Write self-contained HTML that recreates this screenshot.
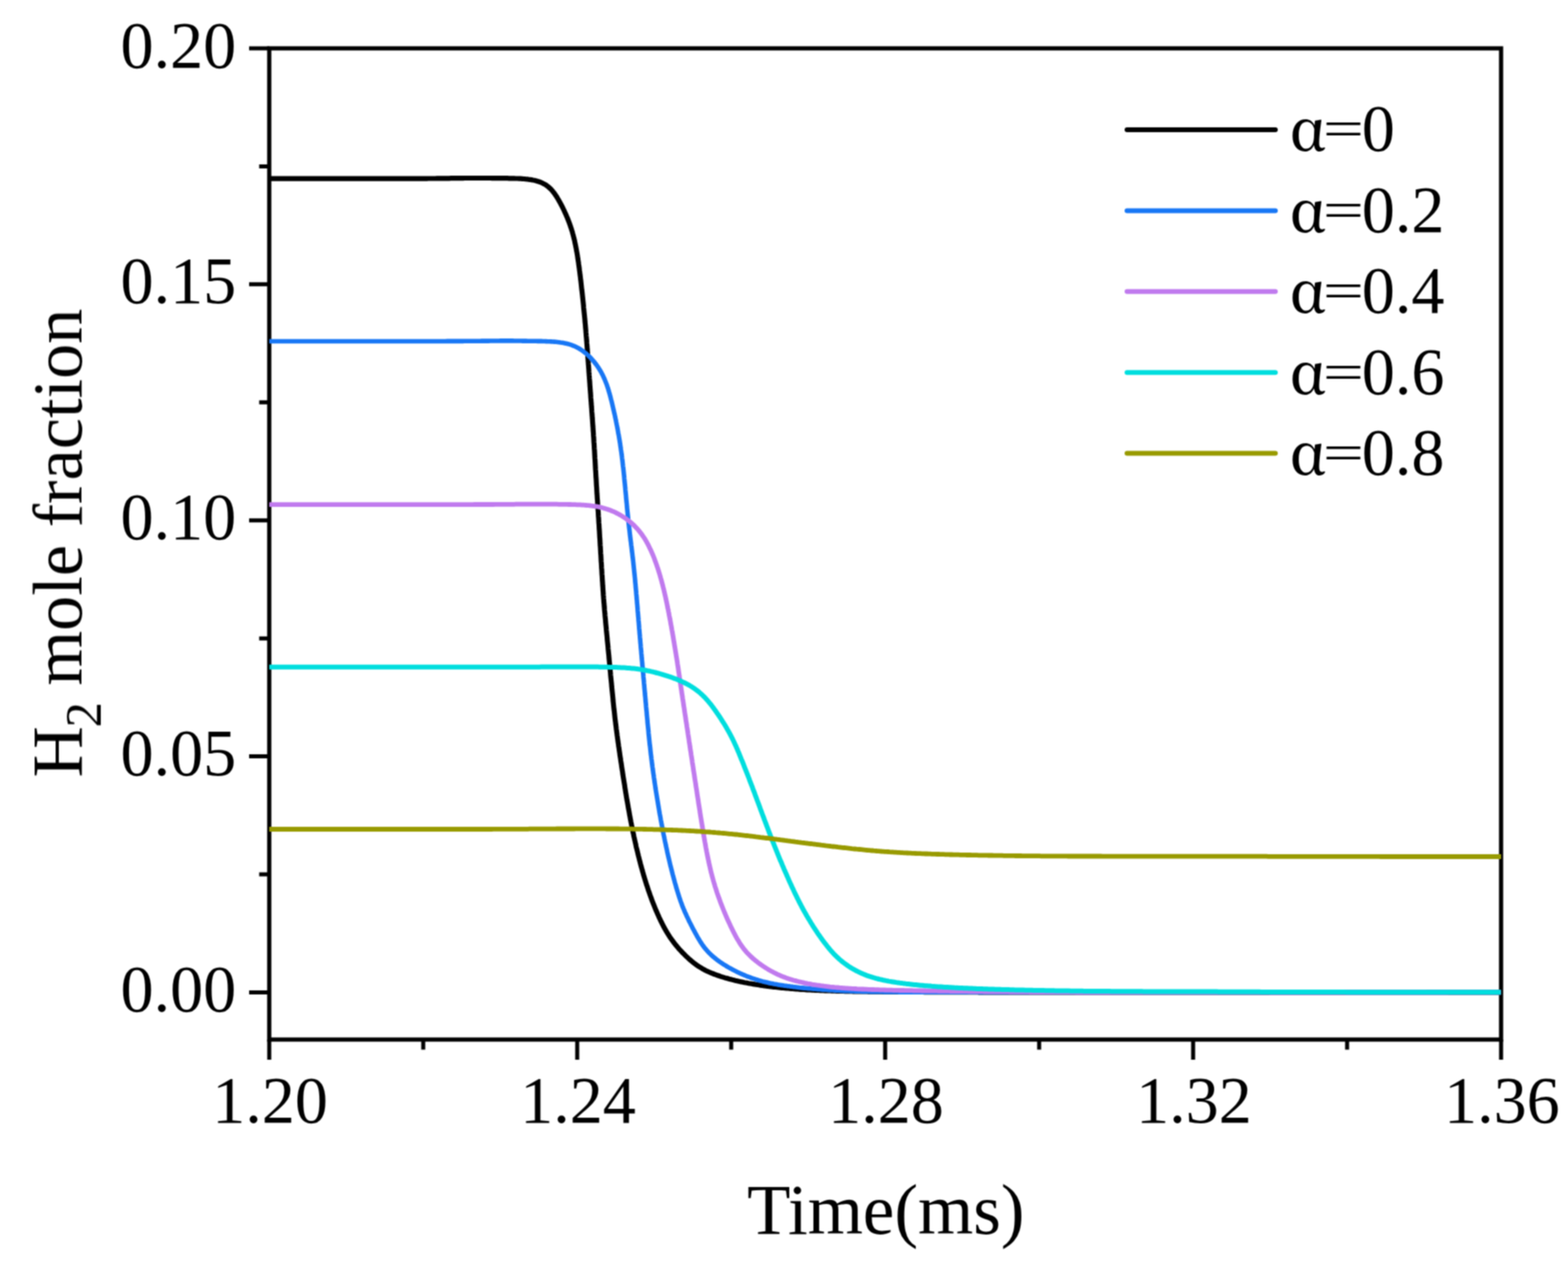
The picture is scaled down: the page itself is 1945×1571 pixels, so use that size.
<!DOCTYPE html>
<html><head><meta charset="utf-8"><title>H2 mole fraction vs Time</title>
<style>html,body{margin:0;padding:0;background:#fff;}svg{display:block;}</style></head>
<body><svg width="1945" height="1571" viewBox="0 0 1945 1571"><defs><filter id="soft" filterUnits="userSpaceOnUse" x="0" y="0" width="1945" height="1571" color-interpolation-filters="sRGB"><feConvolveMatrix order="3" kernelMatrix="1 2 1 2 4 2 1 2 1" divisor="16" edgeMode="none"/></filter></defs><g filter="url(#soft)"><rect x="334.0" y="60.0" width="1528.0" height="1230.0" fill="none" stroke="#000" stroke-width="5.2"/>
<path d="M309.0 1231.43 H334.0 M309.0 938.57 H334.0 M309.0 645.71 H334.0 M309.0 352.86 H334.0 M309.0 60.00 H334.0 M321.5 1085.00 H334.0 M321.5 792.14 H334.0 M321.5 499.29 H334.0 M321.5 206.43 H334.0 M334.00 1290.0 V1315.0 M716.00 1290.0 V1315.0 M1098.00 1290.0 V1315.0 M1480.00 1290.0 V1315.0 M1862.00 1290.0 V1315.0 M525.00 1290.0 V1302.5 M907.00 1290.0 V1302.5 M1289.00 1290.0 V1302.5 M1671.00 1290.0 V1302.5" stroke="#000" stroke-width="5.0" fill="none"/>
<path d="M334.0 221.7 L336.1 221.7 L338.2 221.7 L340.4 221.7 L342.5 221.7 L344.6 221.7 L346.7 221.7 L348.8 221.7 L351.0 221.7 L353.1 221.7 L355.2 221.7 L357.3 221.7 L359.4 221.7 L361.6 221.7 L363.7 221.7 L365.8 221.7 L367.9 221.7 L370.0 221.7 L372.2 221.7 L374.3 221.7 L376.4 221.7 L378.5 221.7 L380.6 221.7 L382.8 221.7 L384.9 221.7 L387.0 221.7 L389.1 221.7 L391.3 221.7 L393.4 221.7 L395.5 221.7 L397.6 221.7 L399.7 221.7 L401.9 221.7 L404.0 221.7 L406.1 221.7 L408.2 221.7 L410.3 221.7 L412.5 221.7 L414.6 221.7 L416.7 221.7 L418.8 221.7 L420.9 221.7 L423.1 221.7 L425.2 221.7 L427.3 221.7 L429.4 221.7 L431.6 221.7 L433.7 221.7 L435.8 221.7 L437.9 221.7 L440.0 221.7 L442.2 221.7 L444.3 221.7 L446.4 221.7 L448.5 221.7 L450.7 221.7 L452.8 221.7 L454.9 221.7 L457.0 221.7 L459.1 221.7 L461.3 221.7 L463.4 221.7 L465.5 221.7 L467.6 221.7 L469.8 221.7 L471.9 221.7 L474.0 221.7 L476.1 221.7 L478.2 221.7 L480.4 221.7 L482.5 221.7 L484.6 221.7 L486.7 221.7 L488.9 221.7 L491.0 221.7 L493.1 221.7 L495.2 221.7 L497.4 221.7 L499.5 221.7 L501.6 221.7 L503.7 221.7 L505.9 221.7 L508.0 221.7 L510.1 221.7 L512.2 221.7 L514.4 221.6 L516.5 221.6 L518.6 221.6 L520.8 221.6 L522.9 221.6 L525.0 221.6 L527.2 221.6 L529.3 221.6 L531.4 221.5 L533.6 221.5 L535.7 221.5 L537.9 221.5 L540.0 221.5 L542.1 221.4 L544.3 221.4 L546.4 221.4 L548.6 221.4 L550.7 221.3 L552.9 221.3 L555.0 221.3 L557.2 221.3 L559.3 221.2 L561.5 221.2 L563.6 221.2 L565.8 221.2 L567.9 221.1 L570.1 221.1 L572.2 221.1 L574.4 221.1 L576.5 221.0 L578.6 221.0 L580.8 221.0 L582.9 221.0 L585.0 221.0 L587.2 221.0 L589.3 221.0 L591.4 221.0 L593.5 221.0 L595.7 221.0 L597.8 221.0 L599.9 221.0 L602.0 221.0 L604.1 221.0 L606.2 221.0 L608.3 221.0 L610.4 221.1 L612.5 221.1 L614.6 221.1 L616.7 221.1 L618.8 221.1 L620.9 221.2 L623.0 221.2 L625.1 221.2 L627.2 221.2 L629.3 221.2 L631.4 221.3 L633.5 221.3 L635.6 221.3 L637.7 221.4 L639.7 221.5 L641.8 221.5 L643.8 221.6 L645.8 221.7 L647.8 221.8 L649.8 222.0 L651.7 222.2 L653.7 222.3 L655.6 222.6 L657.4 222.8 L659.3 223.1 L661.1 223.5 L662.8 223.8 L664.5 224.2 L666.2 224.7 L667.8 225.2 L669.4 225.7 L670.9 226.3 L672.4 227.0 L673.8 227.7 L675.2 228.4 L676.5 229.2 L677.8 230.0 L679.0 230.9 L680.2 231.9 L681.3 232.9 L682.4 233.9 L683.5 234.9 L684.5 236.0 L685.5 237.2 L686.4 238.4 L687.4 239.6 L688.3 240.8 L689.1 242.1 L690.0 243.3 L690.8 244.6 L691.6 246.0 L692.4 247.3 L693.1 248.6 L693.9 250.0 L694.7 251.4 L695.4 252.7 L696.1 254.1 L696.9 255.5 L697.6 256.9 L698.3 258.3 L699.0 259.8 L699.7 261.2 L700.3 262.7 L701.0 264.1 L701.7 265.6 L702.3 267.0 L702.9 268.5 L703.6 270.0 L704.2 271.5 L704.8 273.0 L705.4 274.6 L706.0 276.1 L706.5 277.7 L707.1 279.2 L707.6 280.8 L708.2 282.4 L708.7 284.0 L709.2 285.6 L709.7 287.2 L710.2 288.9 L710.6 290.5 L711.1 292.2 L711.5 293.9 L711.9 295.6 L712.4 297.3 L712.8 299.0 L713.1 300.8 L713.5 302.5 L713.9 304.3 L714.2 306.0 L714.6 307.8 L714.9 309.6 L715.2 311.4 L715.6 313.2 L715.9 315.0 L716.2 316.8 L716.5 318.7 L716.7 320.5 L717.0 322.3 L717.3 324.2 L717.6 326.0 L717.8 327.9 L718.1 329.8 L718.3 331.6 L718.6 333.5 L718.8 335.4 L719.1 337.3 L719.3 339.2 L719.5 341.0 L719.8 342.9 L720.0 344.8 L720.2 346.7 L720.5 348.6 L720.7 350.5 L720.9 352.4 L721.1 354.3 L721.3 356.2 L721.5 358.1 L721.7 360.0 L722.0 362.0 L722.2 363.9 L722.4 365.8 L722.6 367.7 L722.8 369.6 L723.0 371.5 L723.2 373.5 L723.4 375.4 L723.6 377.3 L723.8 379.2 L723.9 381.2 L724.1 383.1 L724.3 385.0 L724.5 387.0 L724.7 388.9 L724.9 390.8 L725.1 392.8 L725.3 394.7 L725.5 396.6 L725.6 398.6 L725.8 400.5 L726.0 402.5 L726.2 404.4 L726.3 406.4 L726.5 408.3 L726.7 410.3 L726.8 412.2 L727.0 414.2 L727.1 416.2 L727.3 418.1 L727.5 420.1 L727.6 422.1 L727.8 424.0 L727.9 426.0 L728.1 428.0 L728.2 429.9 L728.4 431.9 L728.5 433.9 L728.7 435.9 L728.8 437.8 L729.0 439.8 L729.1 441.8 L729.2 443.8 L729.4 445.7 L729.5 447.7 L729.7 449.7 L729.8 451.7 L730.0 453.6 L730.1 455.6 L730.3 457.6 L730.4 459.6 L730.5 461.5 L730.7 463.5 L730.8 465.5 L731.0 467.5 L731.1 469.5 L731.3 471.4 L731.4 473.4 L731.6 475.4 L731.7 477.4 L731.8 479.3 L732.0 481.3 L732.1 483.3 L732.3 485.3 L732.4 487.3 L732.6 489.2 L732.7 491.2 L732.8 493.2 L733.0 495.2 L733.1 497.1 L733.3 499.1 L733.4 501.1 L733.6 503.1 L733.7 505.1 L733.9 507.0 L734.0 509.0 L734.1 511.0 L734.3 513.0 L734.4 514.9 L734.6 516.9 L734.7 518.9 L734.9 520.9 L735.0 522.9 L735.1 524.8 L735.3 526.8 L735.4 528.8 L735.6 530.8 L735.7 532.8 L735.8 534.8 L736.0 536.7 L736.1 538.7 L736.2 540.7 L736.4 542.7 L736.5 544.7 L736.6 546.7 L736.7 548.7 L736.9 550.7 L737.0 552.7 L737.1 554.7 L737.2 556.7 L737.4 558.7 L737.5 560.7 L737.6 562.7 L737.7 564.7 L737.8 566.7 L737.9 568.7 L738.1 570.7 L738.2 572.7 L738.3 574.7 L738.4 576.7 L738.5 578.7 L738.6 580.7 L738.7 582.7 L738.9 584.8 L739.0 586.8 L739.1 588.8 L739.2 590.8 L739.3 592.8 L739.5 594.8 L739.6 596.8 L739.7 598.8 L739.8 600.8 L739.9 602.8 L740.1 604.8 L740.2 606.8 L740.3 608.8 L740.4 610.8 L740.5 612.8 L740.7 614.8 L740.8 616.8 L740.9 618.8 L741.1 620.7 L741.2 622.7 L741.3 624.7 L741.4 626.7 L741.6 628.7 L741.7 630.7 L741.8 632.7 L742.0 634.7 L742.1 636.7 L742.2 638.7 L742.3 640.7 L742.5 642.7 L742.6 644.7 L742.7 646.7 L742.8 648.7 L743.0 650.7 L743.1 652.7 L743.2 654.7 L743.3 656.6 L743.5 658.6 L743.6 660.6 L743.7 662.6 L743.8 664.6 L743.9 666.6 L744.1 668.6 L744.2 670.6 L744.3 672.6 L744.4 674.6 L744.5 676.7 L744.7 678.7 L744.8 680.7 L744.9 682.7 L745.0 684.7 L745.1 686.7 L745.3 688.7 L745.4 690.7 L745.5 692.7 L745.6 694.7 L745.7 696.7 L745.9 698.7 L746.0 700.7 L746.1 702.7 L746.2 704.7 L746.4 706.7 L746.5 708.7 L746.6 710.7 L746.7 712.7 L746.9 714.7 L747.0 716.6 L747.1 718.6 L747.2 720.6 L747.4 722.6 L747.5 724.6 L747.6 726.6 L747.8 728.6 L747.9 730.6 L748.0 732.6 L748.2 734.6 L748.3 736.5 L748.4 738.5 L748.6 740.5 L748.7 742.5 L748.9 744.4 L749.0 746.4 L749.2 748.4 L749.4 750.3 L749.5 752.3 L749.7 754.3 L749.8 756.2 L750.0 758.2 L750.2 760.1 L750.4 762.1 L750.5 764.0 L750.7 766.0 L750.9 767.9 L751.1 769.8 L751.2 771.8 L751.4 773.7 L751.6 775.7 L751.8 777.6 L752.0 779.6 L752.1 781.5 L752.3 783.4 L752.5 785.4 L752.7 787.3 L752.9 789.2 L753.1 791.2 L753.2 793.1 L753.4 795.1 L753.6 797.0 L753.8 798.9 L754.0 800.9 L754.2 802.8 L754.3 804.7 L754.5 806.7 L754.7 808.6 L754.9 810.6 L755.1 812.5 L755.3 814.4 L755.4 816.4 L755.6 818.3 L755.8 820.3 L756.0 822.2 L756.2 824.1 L756.3 826.1 L756.5 828.0 L756.7 829.9 L756.9 831.9 L757.1 833.8 L757.3 835.8 L757.4 837.7 L757.6 839.6 L757.8 841.6 L758.0 843.5 L758.2 845.5 L758.4 847.4 L758.6 849.3 L758.7 851.3 L758.9 853.2 L759.1 855.1 L759.3 857.1 L759.5 859.0 L759.7 860.9 L759.9 862.9 L760.1 864.8 L760.3 866.7 L760.4 868.6 L760.6 870.6 L760.8 872.5 L761.0 874.4 L761.2 876.3 L761.4 878.3 L761.6 880.2 L761.9 882.1 L762.1 884.0 L762.3 885.9 L762.5 887.8 L762.7 889.7 L762.9 891.6 L763.1 893.5 L763.4 895.4 L763.6 897.3 L763.8 899.2 L764.1 901.1 L764.3 903.0 L764.5 904.9 L764.8 906.7 L765.0 908.6 L765.3 910.5 L765.5 912.4 L765.8 914.2 L766.0 916.1 L766.3 918.0 L766.5 919.8 L766.8 921.7 L767.1 923.5 L767.3 925.4 L767.6 927.3 L767.9 929.1 L768.1 931.0 L768.4 932.8 L768.7 934.7 L768.9 936.5 L769.2 938.4 L769.5 940.2 L769.8 942.1 L770.0 943.9 L770.3 945.8 L770.6 947.6 L770.9 949.4 L771.1 951.3 L771.4 953.1 L771.7 955.0 L772.0 956.8 L772.3 958.6 L772.5 960.5 L772.8 962.3 L773.1 964.2 L773.4 966.0 L773.7 967.8 L774.0 969.7 L774.3 971.5 L774.6 973.3 L774.9 975.1 L775.1 977.0 L775.4 978.8 L775.7 980.6 L776.0 982.5 L776.3 984.3 L776.6 986.1 L776.9 987.9 L777.2 989.7 L777.5 991.6 L777.8 993.4 L778.2 995.2 L778.5 997.0 L778.8 998.8 L779.1 1000.6 L779.4 1002.4 L779.7 1004.2 L780.1 1006.0 L780.4 1007.8 L780.7 1009.6 L781.0 1011.4 L781.4 1013.2 L781.7 1015.0 L782.0 1016.8 L782.4 1018.5 L782.7 1020.3 L783.1 1022.1 L783.4 1023.9 L783.8 1025.6 L784.1 1027.4 L784.5 1029.2 L784.9 1030.9 L785.2 1032.7 L785.6 1034.4 L786.0 1036.2 L786.3 1037.9 L786.7 1039.7 L787.1 1041.4 L787.5 1043.1 L787.9 1044.9 L788.3 1046.6 L788.7 1048.3 L789.0 1050.1 L789.4 1051.8 L789.9 1053.5 L790.3 1055.2 L790.7 1056.9 L791.1 1058.6 L791.5 1060.3 L791.9 1062.0 L792.4 1063.7 L792.8 1065.4 L793.2 1067.1 L793.7 1068.8 L794.1 1070.5 L794.5 1072.1 L795.0 1073.8 L795.4 1075.5 L795.9 1077.1 L796.4 1078.8 L796.8 1080.5 L797.3 1082.1 L797.8 1083.8 L798.2 1085.4 L798.7 1087.0 L799.2 1088.7 L799.7 1090.3 L800.2 1091.9 L800.7 1093.6 L801.2 1095.2 L801.7 1096.8 L802.2 1098.4 L802.8 1100.0 L803.3 1101.6 L803.8 1103.2 L804.3 1104.8 L804.9 1106.3 L805.4 1107.9 L806.0 1109.5 L806.5 1111.0 L807.1 1112.6 L807.7 1114.2 L808.2 1115.7 L808.8 1117.3 L809.4 1118.8 L810.0 1120.3 L810.6 1121.9 L811.2 1123.4 L811.8 1124.9 L812.4 1126.4 L813.0 1127.9 L813.6 1129.4 L814.3 1130.9 L814.9 1132.4 L815.6 1133.8 L816.2 1135.3 L816.9 1136.8 L817.5 1138.2 L818.2 1139.7 L818.9 1141.1 L819.6 1142.6 L820.3 1144.0 L821.0 1145.4 L821.7 1146.8 L822.4 1148.2 L823.1 1149.6 L823.9 1151.0 L824.6 1152.4 L825.4 1153.7 L826.2 1155.1 L826.9 1156.4 L827.7 1157.7 L828.5 1159.0 L829.4 1160.3 L830.2 1161.6 L831.0 1162.9 L831.9 1164.2 L832.8 1165.4 L833.7 1166.7 L834.6 1167.9 L835.5 1169.1 L836.4 1170.3 L837.3 1171.5 L838.3 1172.7 L839.2 1173.8 L840.2 1175.0 L841.2 1176.1 L842.1 1177.3 L843.1 1178.4 L844.2 1179.5 L845.2 1180.6 L846.2 1181.7 L847.2 1182.8 L848.3 1183.8 L849.4 1184.9 L850.4 1186.0 L851.5 1187.0 L852.6 1188.0 L853.7 1189.0 L854.8 1190.1 L855.9 1191.0 L857.1 1192.0 L858.2 1193.0 L859.4 1193.9 L860.6 1194.9 L861.8 1195.8 L863.0 1196.7 L864.2 1197.6 L865.5 1198.5 L866.8 1199.3 L868.1 1200.1 L869.4 1200.9 L870.7 1201.7 L872.1 1202.5 L873.4 1203.2 L874.8 1204.0 L876.2 1204.7 L877.7 1205.4 L879.1 1206.0 L880.6 1206.7 L882.1 1207.3 L883.6 1207.9 L885.1 1208.5 L886.6 1209.1 L888.2 1209.7 L889.8 1210.3 L891.3 1210.8 L892.9 1211.3 L894.5 1211.9 L896.1 1212.4 L897.8 1212.9 L899.4 1213.4 L901.0 1213.8 L902.7 1214.3 L904.3 1214.8 L906.0 1215.2 L907.7 1215.6 L909.4 1216.1 L911.1 1216.5 L912.8 1216.9 L914.5 1217.3 L916.3 1217.7 L918.0 1218.1 L919.8 1218.4 L921.5 1218.8 L923.3 1219.2 L925.1 1219.5 L926.8 1219.8 L928.6 1220.2 L930.4 1220.5 L932.2 1220.8 L934.1 1221.1 L935.9 1221.4 L937.7 1221.7 L939.5 1222.0 L941.4 1222.3 L943.2 1222.6 L945.1 1222.8 L946.9 1223.1 L948.8 1223.4 L950.7 1223.6 L952.5 1223.9 L954.4 1224.1 L956.3 1224.3 L958.2 1224.6 L960.1 1224.8 L962.0 1225.0 L963.9 1225.2 L965.8 1225.4 L967.8 1225.6 L969.7 1225.8 L971.6 1226.0 L973.5 1226.2 L975.5 1226.4 L977.4 1226.5 L979.4 1226.7 L981.3 1226.9 L983.3 1227.0 L985.3 1227.2 L987.2 1227.3 L989.2 1227.5 L991.2 1227.6 L993.2 1227.8 L995.2 1227.9 L997.2 1228.0 L999.2 1228.1 L1001.2 1228.3 L1003.2 1228.4 L1005.2 1228.5 L1007.2 1228.6 L1009.2 1228.7 L1011.2 1228.8 L1013.3 1228.9 L1015.3 1229.0 L1017.3 1229.1 L1019.4 1229.2 L1021.4 1229.2 L1023.4 1229.3 L1025.5 1229.4 L1027.5 1229.5 L1029.6 1229.5 L1031.6 1229.6 L1033.7 1229.7 L1035.8 1229.7 L1037.8 1229.8 L1039.9 1229.8 L1041.9 1229.9 L1044.0 1230.0 L1046.1 1230.0 L1048.2 1230.1 L1050.2 1230.1 L1052.3 1230.1 L1054.4 1230.2 L1056.5 1230.2 L1058.6 1230.3 L1060.6 1230.3 L1062.7 1230.3 L1064.8 1230.4 L1066.9 1230.4 L1069.0 1230.4 L1071.1 1230.5 L1073.2 1230.5 L1075.3 1230.5 L1077.4 1230.6 L1079.4 1230.6 L1081.5 1230.6 L1083.6 1230.6 L1085.7 1230.7 L1087.8 1230.7 L1089.9 1230.7 L1092.0 1230.7 L1094.1 1230.7 L1096.2 1230.8 L1098.3 1230.8 L1100.5 1230.8 L1102.6 1230.8 L1104.7 1230.8 L1106.8 1230.8 L1108.9 1230.9 L1111.0 1230.9 L1113.1 1230.9 L1115.2 1230.9 L1117.3 1230.9 L1119.4 1230.9 L1121.5 1230.9 L1123.6 1230.9 L1125.7 1231.0 L1127.9 1231.0 L1130.0 1231.0 L1132.1 1231.0 L1134.2 1231.0 L1136.3 1231.0 L1138.4 1231.0 L1140.5 1231.0 L1142.6 1231.0 L1144.7 1231.0 L1146.9 1231.1 L1149.0 1231.1 L1151.1 1231.1 L1153.2 1231.1 L1155.3 1231.1 L1157.4 1231.1 L1159.5 1231.1 L1161.7 1231.1 L1163.8 1231.1 L1165.9 1231.1 L1168.0 1231.1 L1170.1 1231.1 L1172.2 1231.1 L1174.3 1231.2 L1176.5 1231.2 L1178.6 1231.2 L1180.7 1231.2 L1182.8 1231.2 L1184.9 1231.2 L1187.0 1231.2 L1189.1 1231.2 L1191.3 1231.2 L1193.4 1231.2 L1195.5 1231.2 L1197.6 1231.2 L1199.7 1231.2 L1201.8 1231.2 L1204.0 1231.2 L1206.1 1231.2 L1208.2 1231.2 L1210.3 1231.2 L1212.4 1231.2 L1214.5 1231.3 L1216.7 1231.3 L1218.8 1231.3 L1220.9 1231.3 L1223.0 1231.3 L1225.1 1231.3 L1227.2 1231.3 L1229.4 1231.3 L1231.5 1231.3 L1233.6 1231.3 L1235.7 1231.3 L1237.8 1231.3 L1239.9 1231.3 L1242.1 1231.3 L1244.2 1231.3 L1246.3 1231.3 L1248.4 1231.3 L1250.5 1231.3 L1252.7 1231.3 L1254.8 1231.3 L1256.9 1231.3 L1259.0 1231.3 L1261.1 1231.3 L1263.2 1231.3 L1265.4 1231.3 L1267.5 1231.3 L1269.6 1231.3 L1271.7 1231.4 L1273.8 1231.4 L1276.0 1231.4 L1278.1 1231.4 L1280.2 1231.4 L1282.3 1231.4 L1284.4 1231.4 L1286.6 1231.4 L1288.7 1231.4 L1290.8 1231.4 L1292.9 1231.4 L1295.0 1231.4 L1297.2 1231.4 L1299.3 1231.4 L1301.4 1231.4 L1303.5 1231.4 L1305.6 1231.4 L1307.8 1231.4 L1309.9 1231.4 L1312.0 1231.4 L1314.1 1231.4 L1316.2 1231.4 L1318.4 1231.4 L1320.5 1231.4 L1322.6 1231.4 L1324.7 1231.4 L1326.8 1231.4 L1329.0 1231.4 L1331.1 1231.4 L1333.2 1231.4 L1335.3 1231.4 L1337.4 1231.4 L1339.6 1231.4 L1341.7 1231.4 L1343.8 1231.4 L1345.9 1231.4 L1348.0 1231.4 L1350.2 1231.4 L1352.3 1231.4 L1354.4 1231.4 L1356.5 1231.4 L1358.7 1231.4 L1360.8 1231.4 L1362.9 1231.4 L1365.0 1231.4 L1367.1 1231.4 L1369.3 1231.4 L1371.4 1231.4 L1373.5 1231.4 L1375.6 1231.4 L1377.7 1231.4 L1379.9 1231.4 L1382.0 1231.4 L1384.1 1231.4 L1386.2 1231.4 L1388.3 1231.4 L1390.5 1231.4 L1392.6 1231.4 L1394.7 1231.4 L1396.8 1231.4 L1398.9 1231.4 L1401.1 1231.4 L1403.2 1231.4 L1405.3 1231.4 L1407.4 1231.4 L1409.6 1231.4 L1411.7 1231.4 L1413.8 1231.4 L1415.9 1231.4 L1418.0 1231.4 L1420.2 1231.4 L1422.3 1231.4 L1424.4 1231.4 L1426.5 1231.4 L1428.6 1231.4 L1430.8 1231.4 L1432.9 1231.4 L1435.0 1231.4 L1437.1 1231.4 L1439.2 1231.4 L1441.4 1231.4 L1443.5 1231.4 L1445.6 1231.4 L1447.7 1231.4 L1449.8 1231.4 L1452.0 1231.4 L1454.1 1231.4 L1456.2 1231.4 L1458.3 1231.4 L1460.4 1231.4 L1462.6 1231.4 L1464.7 1231.4 L1466.8 1231.4 L1468.9 1231.4 L1471.0 1231.4 L1473.2 1231.4 L1475.3 1231.4 L1477.4 1231.4 L1479.5 1231.4 L1481.6 1231.4 L1483.8 1231.4 L1485.9 1231.4 L1488.0 1231.4 L1490.1 1231.4 L1492.2 1231.4 L1494.4 1231.4 L1496.5 1231.4 L1498.6 1231.4 L1500.7 1231.4 L1502.8 1231.4 L1505.0 1231.4 L1507.1 1231.4 L1509.2 1231.4 L1511.3 1231.5 L1513.5 1231.5 L1515.6 1231.5 L1517.7 1231.5 L1519.8 1231.5 L1521.9 1231.5 L1524.1 1231.5 L1526.2 1231.5 L1528.3 1231.5 L1530.4 1231.5 L1532.5 1231.5 L1534.7 1231.5 L1536.8 1231.5 L1538.9 1231.5 L1541.0 1231.5 L1543.1 1231.5 L1545.3 1231.5 L1547.4 1231.5 L1549.5 1231.5 L1551.6 1231.5 L1553.7 1231.5 L1555.9 1231.5 L1558.0 1231.5 L1560.1 1231.5 L1562.2 1231.5 L1564.3 1231.5 L1566.5 1231.5 L1568.6 1231.5 L1570.7 1231.5 L1572.8 1231.5 L1575.0 1231.5 L1577.1 1231.5 L1579.2 1231.5 L1581.3 1231.5 L1583.4 1231.5 L1585.6 1231.5 L1587.7 1231.5 L1589.8 1231.5 L1591.9 1231.5 L1594.0 1231.5 L1596.2 1231.5 L1598.3 1231.5 L1600.4 1231.5 L1602.5 1231.5 L1604.6 1231.5 L1606.8 1231.5 L1608.9 1231.5 L1611.0 1231.5 L1613.1 1231.5 L1615.3 1231.5 L1617.4 1231.5 L1619.5 1231.5 L1621.6 1231.5 L1623.7 1231.5 L1625.9 1231.5 L1628.0 1231.5 L1630.1 1231.5 L1632.2 1231.5 L1634.3 1231.5 L1636.5 1231.5 L1638.6 1231.5 L1640.7 1231.5 L1642.8 1231.5 L1645.0 1231.5 L1647.1 1231.5 L1649.2 1231.5 L1651.3 1231.5 L1653.4 1231.5 L1655.6 1231.5 L1657.7 1231.5 L1659.8 1231.5 L1661.9 1231.5 L1664.0 1231.5 L1666.2 1231.5 L1668.3 1231.5 L1670.4 1231.5 L1672.5 1231.5 L1674.7 1231.5 L1676.8 1231.5 L1678.9 1231.5 L1681.0 1231.5 L1683.1 1231.5 L1685.3 1231.5 L1687.4 1231.5 L1689.5 1231.5 L1691.6 1231.5 L1693.7 1231.5 L1695.9 1231.5 L1698.0 1231.5 L1700.1 1231.5 L1702.2 1231.5 L1704.4 1231.5 L1706.5 1231.5 L1708.6 1231.5 L1710.7 1231.5 L1712.8 1231.5 L1715.0 1231.5 L1717.1 1231.5 L1719.2 1231.5 L1721.3 1231.5 L1723.4 1231.5 L1725.6 1231.5 L1727.7 1231.5 L1729.8 1231.5 L1731.9 1231.5 L1734.1 1231.5 L1736.2 1231.5 L1738.3 1231.5 L1740.4 1231.5 L1742.5 1231.5 L1744.7 1231.5 L1746.8 1231.5 L1748.9 1231.5 L1751.0 1231.5 L1753.2 1231.5 L1755.3 1231.5 L1757.4 1231.5 L1759.5 1231.5 L1761.6 1231.5 L1763.8 1231.5 L1765.9 1231.5 L1768.0 1231.5 L1770.1 1231.4 L1772.3 1231.4 L1774.4 1231.4 L1776.5 1231.4 L1778.6 1231.4 L1780.7 1231.4 L1782.9 1231.4 L1785.0 1231.4 L1787.1 1231.4 L1789.2 1231.4 L1791.4 1231.4 L1793.5 1231.4 L1795.6 1231.4 L1797.7 1231.4 L1799.8 1231.4 L1802.0 1231.4 L1804.1 1231.4 L1806.2 1231.4 L1808.3 1231.4 L1810.5 1231.4 L1812.6 1231.4 L1814.7 1231.4 L1816.8 1231.4 L1818.9 1231.4 L1821.1 1231.4 L1823.2 1231.4 L1825.3 1231.4 L1827.4 1231.4 L1829.6 1231.4 L1831.7 1231.4 L1833.8 1231.4 L1835.9 1231.4 L1838.0 1231.4 L1840.2 1231.4 L1842.3 1231.4 L1844.4 1231.4 L1846.5 1231.4 L1848.7 1231.4 L1850.8 1231.4 L1852.9 1231.4 L1855.0 1231.4 L1857.2 1231.4 L1859.3 1231.4 L1861.4 1231.4 L1862.1 1231.4" stroke="#000000" stroke-width="6.2" fill="none" stroke-linejoin="round" stroke-linecap="butt"/>
<path d="M334.0 423.5 L336.1 423.5 L338.2 423.5 L340.4 423.5 L342.5 423.5 L344.6 423.5 L346.7 423.5 L348.9 423.5 L351.0 423.5 L353.1 423.5 L355.2 423.5 L357.3 423.5 L359.5 423.5 L361.6 423.5 L363.7 423.5 L365.8 423.5 L368.0 423.5 L370.1 423.5 L372.2 423.5 L374.3 423.5 L376.4 423.5 L378.6 423.5 L380.7 423.5 L382.8 423.5 L384.9 423.5 L387.1 423.5 L389.2 423.5 L391.3 423.5 L393.4 423.5 L395.5 423.5 L397.7 423.5 L399.8 423.5 L401.9 423.5 L404.0 423.5 L406.2 423.5 L408.3 423.5 L410.4 423.5 L412.5 423.5 L414.6 423.5 L416.8 423.5 L418.9 423.5 L421.0 423.5 L423.1 423.5 L425.2 423.5 L427.4 423.5 L429.5 423.5 L431.6 423.5 L433.7 423.5 L435.9 423.5 L438.0 423.5 L440.1 423.5 L442.2 423.5 L444.3 423.5 L446.5 423.5 L448.6 423.5 L450.7 423.5 L452.8 423.5 L454.9 423.5 L457.1 423.5 L459.2 423.5 L461.3 423.5 L463.4 423.5 L465.6 423.5 L467.7 423.5 L469.8 423.5 L471.9 423.5 L474.0 423.5 L476.2 423.5 L478.3 423.5 L480.4 423.5 L482.5 423.5 L484.6 423.5 L486.8 423.5 L488.9 423.5 L491.0 423.5 L493.1 423.5 L495.2 423.5 L497.4 423.5 L499.5 423.5 L501.6 423.5 L503.7 423.5 L505.8 423.5 L508.0 423.5 L510.1 423.5 L512.2 423.5 L514.3 423.5 L516.5 423.5 L518.6 423.5 L520.7 423.5 L522.8 423.5 L524.9 423.5 L527.1 423.5 L529.2 423.5 L531.3 423.5 L533.4 423.5 L535.6 423.5 L537.7 423.5 L539.8 423.5 L541.9 423.5 L544.0 423.5 L546.2 423.5 L548.3 423.5 L550.4 423.5 L552.5 423.5 L554.7 423.4 L556.8 423.4 L558.9 423.4 L561.1 423.4 L563.2 423.4 L565.3 423.4 L567.5 423.4 L569.6 423.4 L571.7 423.4 L573.9 423.4 L576.0 423.3 L578.1 423.3 L580.3 423.3 L582.4 423.3 L584.5 423.3 L586.7 423.3 L588.8 423.2 L591.0 423.2 L593.1 423.2 L595.2 423.2 L597.4 423.1 L599.5 423.1 L601.7 423.1 L603.8 423.1 L606.0 423.1 L608.1 423.0 L610.3 423.0 L612.4 423.0 L614.5 423.0 L616.7 423.0 L618.8 423.0 L620.9 422.9 L623.1 422.9 L625.2 422.9 L627.3 422.9 L629.4 422.9 L631.6 422.9 L633.7 422.9 L635.8 422.9 L637.9 423.0 L640.0 423.0 L642.1 423.0 L644.2 423.0 L646.3 423.0 L648.4 423.1 L650.5 423.1 L652.6 423.1 L654.7 423.2 L656.8 423.2 L658.8 423.2 L660.9 423.2 L663.0 423.3 L665.1 423.3 L667.2 423.4 L669.3 423.4 L671.4 423.4 L673.4 423.5 L675.5 423.5 L677.5 423.6 L679.6 423.7 L681.6 423.8 L683.6 423.9 L685.6 424.0 L687.6 424.1 L689.6 424.3 L691.5 424.5 L693.4 424.7 L695.3 425.0 L697.1 425.2 L698.9 425.5 L700.7 425.9 L702.5 426.3 L704.2 426.7 L705.8 427.2 L707.4 427.7 L709.0 428.2 L710.6 428.8 L712.1 429.4 L713.6 430.0 L715.0 430.7 L716.4 431.4 L717.8 432.2 L719.1 433.0 L720.4 433.8 L721.7 434.7 L722.9 435.5 L724.1 436.4 L725.3 437.4 L726.5 438.3 L727.6 439.3 L728.7 440.3 L729.8 441.3 L730.9 442.4 L732.0 443.4 L733.0 444.5 L734.0 445.6 L735.0 446.7 L736.0 447.9 L737.0 449.0 L737.9 450.2 L738.8 451.4 L739.8 452.6 L740.6 453.9 L741.5 455.1 L742.4 456.4 L743.2 457.7 L744.0 459.0 L744.8 460.3 L745.6 461.7 L746.3 463.0 L747.0 464.4 L747.8 465.8 L748.4 467.3 L749.1 468.7 L749.8 470.2 L750.4 471.7 L751.0 473.2 L751.6 474.7 L752.2 476.2 L752.8 477.8 L753.3 479.4 L753.8 481.0 L754.4 482.6 L754.8 484.2 L755.3 485.8 L755.8 487.5 L756.3 489.1 L756.7 490.8 L757.2 492.5 L757.6 494.2 L758.0 495.8 L758.5 497.5 L758.9 499.2 L759.3 500.9 L759.7 502.7 L760.1 504.4 L760.5 506.1 L760.9 507.8 L761.3 509.5 L761.7 511.3 L762.1 513.0 L762.5 514.7 L762.9 516.5 L763.2 518.2 L763.6 520.0 L764.0 521.7 L764.3 523.5 L764.7 525.3 L765.0 527.0 L765.4 528.8 L765.7 530.6 L766.1 532.4 L766.4 534.2 L766.7 536.0 L767.0 537.8 L767.4 539.6 L767.7 541.4 L768.0 543.2 L768.3 545.0 L768.6 546.8 L768.9 548.7 L769.2 550.5 L769.4 552.3 L769.7 554.2 L770.0 556.0 L770.2 557.9 L770.5 559.8 L770.8 561.6 L771.0 563.5 L771.3 565.4 L771.5 567.2 L771.7 569.1 L772.0 571.0 L772.2 572.9 L772.4 574.8 L772.6 576.7 L772.8 578.6 L773.1 580.5 L773.3 582.5 L773.5 584.4 L773.7 586.3 L773.9 588.2 L774.1 590.1 L774.3 592.1 L774.4 594.0 L774.6 595.9 L774.8 597.9 L775.0 599.8 L775.2 601.7 L775.4 603.7 L775.6 605.6 L775.7 607.5 L775.9 609.5 L776.1 611.4 L776.3 613.4 L776.5 615.3 L776.6 617.3 L776.8 619.2 L777.0 621.1 L777.2 623.1 L777.4 625.0 L777.6 627.0 L777.7 628.9 L777.9 630.8 L778.1 632.8 L778.3 634.7 L778.5 636.6 L778.7 638.5 L778.9 640.5 L779.1 642.4 L779.3 644.3 L779.5 646.2 L779.7 648.2 L779.9 650.1 L780.1 652.0 L780.3 653.9 L780.5 655.8 L780.8 657.7 L781.0 659.6 L781.2 661.5 L781.4 663.4 L781.6 665.3 L781.9 667.2 L782.1 669.1 L782.3 671.0 L782.6 672.8 L782.8 674.7 L783.0 676.6 L783.3 678.5 L783.5 680.4 L783.7 682.3 L783.9 684.2 L784.2 686.1 L784.4 688.0 L784.6 689.9 L784.8 691.8 L785.1 693.7 L785.3 695.6 L785.5 697.5 L785.7 699.4 L785.9 701.3 L786.1 703.2 L786.3 705.2 L786.5 707.1 L786.7 709.0 L786.9 710.9 L787.1 712.9 L787.3 714.8 L787.5 716.7 L787.7 718.7 L787.8 720.6 L788.0 722.6 L788.2 724.5 L788.4 726.4 L788.5 728.4 L788.7 730.3 L788.9 732.3 L789.1 734.2 L789.2 736.2 L789.4 738.1 L789.6 740.1 L789.7 742.1 L789.9 744.0 L790.1 746.0 L790.2 747.9 L790.4 749.9 L790.6 751.8 L790.7 753.8 L790.9 755.8 L791.0 757.7 L791.2 759.7 L791.4 761.6 L791.5 763.6 L791.7 765.5 L791.9 767.5 L792.0 769.5 L792.2 771.4 L792.4 773.4 L792.5 775.3 L792.7 777.3 L792.8 779.2 L793.0 781.2 L793.2 783.2 L793.3 785.1 L793.5 787.1 L793.7 789.0 L793.8 791.0 L794.0 792.9 L794.2 794.9 L794.3 796.8 L794.5 798.8 L794.7 800.7 L794.8 802.7 L795.0 804.7 L795.2 806.6 L795.4 808.6 L795.5 810.5 L795.7 812.5 L795.9 814.4 L796.0 816.4 L796.2 818.3 L796.4 820.2 L796.6 822.2 L796.7 824.1 L796.9 826.1 L797.1 828.0 L797.3 830.0 L797.4 831.9 L797.6 833.9 L797.8 835.8 L798.0 837.8 L798.1 839.7 L798.3 841.7 L798.5 843.6 L798.7 845.6 L798.8 847.5 L799.0 849.5 L799.2 851.4 L799.3 853.3 L799.5 855.3 L799.7 857.2 L799.9 859.2 L800.0 861.1 L800.2 863.1 L800.4 865.0 L800.6 867.0 L800.7 868.9 L800.9 870.9 L801.1 872.8 L801.3 874.8 L801.4 876.7 L801.6 878.7 L801.8 880.6 L802.0 882.5 L802.2 884.5 L802.3 886.4 L802.5 888.4 L802.7 890.3 L802.9 892.3 L803.1 894.2 L803.2 896.1 L803.4 898.1 L803.6 900.0 L803.8 901.9 L804.0 903.9 L804.2 905.8 L804.4 907.7 L804.5 909.7 L804.7 911.6 L804.9 913.5 L805.1 915.4 L805.3 917.4 L805.5 919.3 L805.7 921.2 L805.9 923.1 L806.1 925.0 L806.4 926.9 L806.6 928.9 L806.8 930.8 L807.0 932.7 L807.2 934.6 L807.4 936.5 L807.7 938.4 L807.9 940.3 L808.1 942.1 L808.4 944.0 L808.6 945.9 L808.8 947.8 L809.1 949.7 L809.3 951.6 L809.6 953.4 L809.8 955.3 L810.1 957.2 L810.3 959.0 L810.6 960.9 L810.9 962.8 L811.1 964.6 L811.4 966.5 L811.7 968.3 L811.9 970.2 L812.2 972.0 L812.5 973.9 L812.8 975.7 L813.0 977.5 L813.3 979.4 L813.6 981.2 L813.9 983.1 L814.2 984.9 L814.5 986.7 L814.8 988.5 L815.1 990.4 L815.4 992.2 L815.7 994.0 L816.0 995.8 L816.3 997.7 L816.6 999.5 L816.9 1001.3 L817.2 1003.1 L817.5 1004.9 L817.8 1006.7 L818.1 1008.5 L818.4 1010.3 L818.8 1012.1 L819.1 1013.9 L819.4 1015.7 L819.7 1017.5 L820.1 1019.3 L820.4 1021.1 L820.7 1022.9 L821.1 1024.7 L821.4 1026.4 L821.8 1028.2 L822.1 1030.0 L822.4 1031.8 L822.8 1033.5 L823.1 1035.3 L823.5 1037.1 L823.9 1038.9 L824.2 1040.6 L824.6 1042.4 L824.9 1044.1 L825.3 1045.9 L825.7 1047.6 L826.0 1049.4 L826.4 1051.1 L826.8 1052.9 L827.2 1054.6 L827.5 1056.4 L827.9 1058.1 L828.3 1059.8 L828.7 1061.6 L829.1 1063.3 L829.5 1065.0 L829.9 1066.7 L830.3 1068.5 L830.7 1070.2 L831.1 1071.9 L831.5 1073.6 L831.9 1075.3 L832.4 1077.0 L832.8 1078.7 L833.2 1080.4 L833.7 1082.1 L834.1 1083.8 L834.5 1085.5 L835.0 1087.1 L835.4 1088.8 L835.9 1090.5 L836.3 1092.2 L836.8 1093.8 L837.2 1095.5 L837.7 1097.1 L838.2 1098.8 L838.6 1100.4 L839.1 1102.1 L839.6 1103.7 L840.1 1105.4 L840.6 1107.0 L841.1 1108.6 L841.6 1110.2 L842.1 1111.8 L842.6 1113.4 L843.1 1115.0 L843.7 1116.6 L844.2 1118.2 L844.8 1119.7 L845.4 1121.3 L845.9 1122.8 L846.5 1124.4 L847.1 1125.9 L847.7 1127.4 L848.4 1128.9 L849.0 1130.4 L849.6 1131.9 L850.3 1133.3 L851.0 1134.8 L851.6 1136.2 L852.3 1137.7 L853.0 1139.1 L853.7 1140.6 L854.3 1142.0 L855.0 1143.4 L855.7 1144.8 L856.5 1146.3 L857.2 1147.7 L857.9 1149.1 L858.6 1150.5 L859.3 1151.9 L860.1 1153.3 L860.8 1154.6 L861.5 1156.0 L862.3 1157.4 L863.0 1158.8 L863.8 1160.1 L864.5 1161.5 L865.3 1162.9 L866.1 1164.2 L866.9 1165.5 L867.7 1166.9 L868.5 1168.2 L869.3 1169.5 L870.2 1170.7 L871.0 1172.0 L871.9 1173.3 L872.8 1174.5 L873.7 1175.7 L874.6 1176.9 L875.6 1178.0 L876.6 1179.2 L877.6 1180.3 L878.6 1181.4 L879.6 1182.5 L880.7 1183.5 L881.8 1184.6 L882.9 1185.6 L884.0 1186.6 L885.1 1187.6 L886.3 1188.5 L887.5 1189.5 L888.6 1190.4 L889.8 1191.4 L891.1 1192.3 L892.3 1193.2 L893.5 1194.0 L894.8 1194.9 L896.1 1195.7 L897.4 1196.6 L898.7 1197.4 L900.0 1198.2 L901.3 1199.0 L902.6 1199.8 L904.0 1200.6 L905.3 1201.3 L906.7 1202.1 L908.1 1202.8 L909.4 1203.6 L910.8 1204.3 L912.3 1205.0 L913.7 1205.7 L915.1 1206.4 L916.5 1207.1 L918.0 1207.8 L919.5 1208.4 L920.9 1209.1 L922.4 1209.7 L923.9 1210.3 L925.4 1211.0 L926.9 1211.6 L928.4 1212.2 L930.0 1212.7 L931.5 1213.3 L933.1 1213.9 L934.7 1214.4 L936.3 1214.9 L937.9 1215.5 L939.5 1216.0 L941.1 1216.5 L942.7 1216.9 L944.4 1217.4 L946.1 1217.9 L947.8 1218.3 L949.5 1218.7 L951.2 1219.1 L952.9 1219.5 L954.6 1219.9 L956.4 1220.3 L958.2 1220.6 L959.9 1221.0 L961.7 1221.3 L963.5 1221.6 L965.3 1221.9 L967.2 1222.2 L969.0 1222.5 L970.8 1222.8 L972.7 1223.1 L974.5 1223.3 L976.4 1223.6 L978.3 1223.8 L980.2 1224.1 L982.0 1224.3 L983.9 1224.6 L985.8 1224.8 L987.7 1225.0 L989.6 1225.2 L991.5 1225.5 L993.4 1225.7 L995.3 1225.9 L997.3 1226.1 L999.2 1226.3 L1001.1 1226.4 L1003.1 1226.6 L1005.0 1226.8 L1007.0 1227.0 L1008.9 1227.1 L1010.9 1227.3 L1012.8 1227.5 L1014.8 1227.6 L1016.8 1227.8 L1018.7 1227.9 L1020.7 1228.1 L1022.7 1228.2 L1024.7 1228.3 L1026.7 1228.5 L1028.7 1228.6 L1030.7 1228.7 L1032.7 1228.8 L1034.7 1229.0 L1036.7 1229.1 L1038.7 1229.2 L1040.7 1229.3 L1042.7 1229.4 L1044.8 1229.5 L1046.8 1229.6 L1048.8 1229.7 L1050.9 1229.7 L1052.9 1229.8 L1054.9 1229.9 L1057.0 1230.0 L1059.0 1230.0 L1061.1 1230.1 L1063.2 1230.2 L1065.2 1230.2 L1067.3 1230.3 L1069.3 1230.4 L1071.4 1230.4 L1073.5 1230.5 L1075.6 1230.5 L1077.6 1230.5 L1079.7 1230.6 L1081.8 1230.6 L1083.9 1230.7 L1086.0 1230.7 L1088.1 1230.7 L1090.1 1230.8 L1092.2 1230.8 L1094.3 1230.8 L1096.4 1230.9 L1098.5 1230.9 L1100.6 1230.9 L1102.7 1230.9 L1104.8 1231.0 L1106.9 1231.0 L1109.0 1231.0 L1111.1 1231.0 L1113.2 1231.0 L1115.3 1231.1 L1117.4 1231.1 L1119.5 1231.1 L1121.6 1231.1 L1123.7 1231.1 L1125.8 1231.1 L1128.0 1231.1 L1130.1 1231.1 L1132.2 1231.2 L1134.3 1231.2 L1136.4 1231.2 L1138.5 1231.2 L1140.6 1231.2 L1142.7 1231.2 L1144.9 1231.2 L1147.0 1231.2 L1149.1 1231.2 L1151.2 1231.2 L1153.3 1231.2 L1155.4 1231.2 L1157.5 1231.2 L1159.7 1231.3 L1161.8 1231.3 L1163.9 1231.3 L1166.0 1231.3 L1168.1 1231.3 L1170.2 1231.3 L1172.4 1231.3 L1174.5 1231.3 L1176.6 1231.3 L1178.7 1231.3 L1180.8 1231.3 L1182.9 1231.3 L1185.1 1231.3 L1187.2 1231.3 L1189.3 1231.3 L1191.4 1231.3 L1193.5 1231.3 L1195.7 1231.3 L1197.8 1231.3 L1199.9 1231.3 L1202.0 1231.3 L1204.1 1231.3 L1206.2 1231.3 L1208.4 1231.3 L1210.5 1231.3 L1212.6 1231.3 L1214.7 1231.4 L1216.8 1231.4 L1219.0 1231.4 L1221.1 1231.4 L1223.2 1231.4 L1225.3 1231.4 L1227.4 1231.4 L1229.5 1231.4 L1231.7 1231.4 L1233.8 1231.4 L1235.9 1231.4 L1238.0 1231.4 L1240.1 1231.4 L1242.3 1231.4 L1244.4 1231.4 L1246.5 1231.4 L1248.6 1231.4 L1250.7 1231.4 L1252.9 1231.4 L1255.0 1231.4 L1257.1 1231.4 L1259.2 1231.4 L1261.3 1231.4 L1263.5 1231.4 L1265.6 1231.4 L1267.7 1231.4 L1269.8 1231.4 L1271.9 1231.4 L1274.1 1231.4 L1276.2 1231.4 L1278.3 1231.4 L1280.4 1231.4 L1282.5 1231.4 L1284.7 1231.4 L1286.8 1231.4 L1288.9 1231.4 L1291.0 1231.4 L1293.1 1231.4 L1295.3 1231.4 L1297.4 1231.4 L1299.5 1231.4 L1301.6 1231.4 L1303.8 1231.4 L1305.9 1231.4 L1308.0 1231.4 L1310.1 1231.4 L1312.2 1231.4 L1314.4 1231.4 L1316.5 1231.4 L1318.6 1231.4 L1320.7 1231.4 L1322.8 1231.4 L1325.0 1231.4 L1327.1 1231.4 L1329.2 1231.4 L1331.3 1231.4 L1333.5 1231.4 L1335.6 1231.4 L1337.7 1231.4 L1339.8 1231.4 L1341.9 1231.4 L1344.1 1231.4 L1346.2 1231.4 L1348.3 1231.4 L1350.4 1231.4 L1352.5 1231.4 L1354.7 1231.4 L1356.8 1231.4 L1358.9 1231.4 L1361.0 1231.4 L1363.2 1231.4 L1365.3 1231.4 L1367.4 1231.4 L1369.5 1231.4 L1371.6 1231.4 L1373.8 1231.4 L1375.9 1231.4 L1378.0 1231.4 L1380.1 1231.4 L1382.3 1231.4 L1384.4 1231.4 L1386.5 1231.4 L1388.6 1231.4 L1390.7 1231.4 L1392.9 1231.4 L1395.0 1231.4 L1397.1 1231.4 L1399.2 1231.4 L1401.3 1231.4 L1403.5 1231.4 L1405.6 1231.4 L1407.7 1231.4 L1409.8 1231.4 L1411.9 1231.4 L1414.1 1231.4 L1416.2 1231.4 L1418.3 1231.4 L1420.4 1231.4 L1422.6 1231.4 L1424.7 1231.4 L1426.8 1231.4 L1428.9 1231.4 L1431.0 1231.4 L1433.2 1231.4 L1435.3 1231.4 L1437.4 1231.4 L1439.5 1231.4 L1441.6 1231.4 L1443.8 1231.4 L1445.9 1231.4 L1448.0 1231.4 L1450.1 1231.4 L1452.2 1231.4 L1454.4 1231.4 L1456.5 1231.4 L1458.6 1231.4 L1460.7 1231.4 L1462.9 1231.4 L1465.0 1231.4 L1467.1 1231.4 L1469.2 1231.4 L1471.3 1231.4 L1473.5 1231.4 L1475.6 1231.4 L1477.7 1231.4 L1479.8 1231.4 L1481.9 1231.4 L1484.1 1231.4 L1486.2 1231.4 L1488.3 1231.4 L1490.4 1231.4 L1492.5 1231.4 L1494.7 1231.4 L1496.8 1231.4 L1498.9 1231.4 L1501.0 1231.4 L1503.1 1231.4 L1505.3 1231.4 L1507.4 1231.4 L1509.5 1231.4 L1511.6 1231.4 L1513.8 1231.4 L1515.9 1231.4 L1518.0 1231.4 L1520.1 1231.4 L1522.2 1231.4 L1524.4 1231.4 L1526.5 1231.4 L1528.6 1231.4 L1530.7 1231.4 L1532.8 1231.4 L1535.0 1231.4 L1537.1 1231.4 L1539.2 1231.4 L1541.3 1231.4 L1543.4 1231.4 L1545.6 1231.4 L1547.7 1231.4 L1549.8 1231.4 L1551.9 1231.4 L1554.1 1231.4 L1556.2 1231.4 L1558.3 1231.4 L1560.4 1231.4 L1562.5 1231.4 L1564.7 1231.4 L1566.8 1231.4 L1568.9 1231.4 L1571.0 1231.4 L1573.1 1231.4 L1575.3 1231.4 L1577.4 1231.4 L1579.5 1231.4 L1581.6 1231.4 L1583.7 1231.4 L1585.9 1231.4 L1588.0 1231.4 L1590.1 1231.4 L1592.2 1231.4 L1594.4 1231.4 L1596.5 1231.4 L1598.6 1231.4 L1600.7 1231.4 L1602.8 1231.4 L1605.0 1231.4 L1607.1 1231.4 L1609.2 1231.4 L1611.3 1231.4 L1613.4 1231.4 L1615.6 1231.4 L1617.7 1231.4 L1619.8 1231.4 L1621.9 1231.4 L1624.0 1231.4 L1626.2 1231.4 L1628.3 1231.4 L1630.4 1231.4 L1632.5 1231.4 L1634.7 1231.4 L1636.8 1231.4 L1638.9 1231.4 L1641.0 1231.4 L1643.1 1231.4 L1645.3 1231.4 L1647.4 1231.4 L1649.5 1231.4 L1651.6 1231.4 L1653.7 1231.4 L1655.9 1231.4 L1658.0 1231.4 L1660.1 1231.4 L1662.2 1231.4 L1664.4 1231.4 L1666.5 1231.4 L1668.6 1231.4 L1670.7 1231.4 L1672.8 1231.4 L1675.0 1231.4 L1677.1 1231.4 L1679.2 1231.4 L1681.3 1231.4 L1683.4 1231.4 L1685.6 1231.4 L1687.7 1231.4 L1689.8 1231.4 L1691.9 1231.4 L1694.1 1231.4 L1696.2 1231.4 L1698.3 1231.4 L1700.4 1231.4 L1702.5 1231.4 L1704.7 1231.4 L1706.8 1231.4 L1708.9 1231.4 L1711.0 1231.4 L1713.1 1231.4 L1715.3 1231.4 L1717.4 1231.4 L1719.5 1231.4 L1721.6 1231.4 L1723.8 1231.4 L1725.9 1231.4 L1728.0 1231.4 L1730.1 1231.4 L1732.2 1231.4 L1734.4 1231.4 L1736.5 1231.4 L1738.6 1231.4 L1740.7 1231.4 L1742.9 1231.4 L1745.0 1231.4 L1747.1 1231.4 L1749.2 1231.4 L1751.3 1231.4 L1753.5 1231.4 L1755.6 1231.4 L1757.7 1231.4 L1759.8 1231.4 L1761.9 1231.4 L1764.1 1231.4 L1766.2 1231.4 L1768.3 1231.4 L1770.4 1231.4 L1772.6 1231.4 L1774.7 1231.4 L1776.8 1231.4 L1778.9 1231.4 L1781.0 1231.4 L1783.2 1231.4 L1785.3 1231.4 L1787.4 1231.4 L1789.5 1231.4 L1791.6 1231.4 L1793.8 1231.4 L1795.9 1231.4 L1798.0 1231.4 L1800.1 1231.4 L1802.3 1231.4 L1804.4 1231.4 L1806.5 1231.4 L1808.6 1231.4 L1810.7 1231.4 L1812.9 1231.4 L1815.0 1231.4 L1817.1 1231.4 L1819.2 1231.4 L1821.4 1231.4 L1823.5 1231.4 L1825.6 1231.4 L1827.7 1231.4 L1829.8 1231.4 L1832.0 1231.4 L1834.1 1231.4 L1836.2 1231.4 L1838.3 1231.4 L1840.5 1231.4 L1842.6 1231.4 L1844.7 1231.4 L1846.8 1231.4 L1848.9 1231.4 L1851.1 1231.4 L1853.2 1231.4 L1855.3 1231.4 L1857.4 1231.4 L1859.6 1231.4 L1861.7 1231.4" stroke="#1877f5" stroke-width="5.6" fill="none" stroke-linejoin="round" stroke-linecap="butt"/>
<path d="M334.0 626.1 L336.1 626.1 L338.2 626.1 L340.4 626.1 L342.5 626.1 L344.6 626.1 L346.7 626.1 L348.9 626.1 L351.0 626.1 L353.1 626.1 L355.2 626.1 L357.3 626.1 L359.5 626.1 L361.6 626.1 L363.7 626.1 L365.8 626.1 L368.0 626.1 L370.1 626.1 L372.2 626.1 L374.3 626.1 L376.5 626.1 L378.6 626.1 L380.7 626.1 L382.8 626.1 L384.9 626.1 L387.1 626.1 L389.2 626.1 L391.3 626.1 L393.4 626.1 L395.6 626.1 L397.7 626.1 L399.8 626.1 L401.9 626.1 L404.0 626.1 L406.2 626.1 L408.3 626.1 L410.4 626.1 L412.5 626.1 L414.6 626.1 L416.8 626.1 L418.9 626.1 L421.0 626.1 L423.1 626.1 L425.3 626.1 L427.4 626.1 L429.5 626.1 L431.6 626.1 L433.7 626.1 L435.9 626.1 L438.0 626.1 L440.1 626.1 L442.2 626.1 L444.4 626.1 L446.5 626.1 L448.6 626.1 L450.7 626.1 L452.8 626.1 L455.0 626.1 L457.1 626.1 L459.2 626.1 L461.3 626.1 L463.4 626.1 L465.6 626.1 L467.7 626.1 L469.8 626.1 L471.9 626.1 L474.0 626.1 L476.2 626.1 L478.3 626.1 L480.4 626.1 L482.5 626.1 L484.7 626.1 L486.8 626.1 L488.9 626.1 L491.0 626.1 L493.1 626.1 L495.3 626.1 L497.4 626.1 L499.5 626.1 L501.6 626.1 L503.7 626.1 L505.9 626.1 L508.0 626.1 L510.1 626.1 L512.2 626.1 L514.3 626.1 L516.5 626.1 L518.6 626.1 L520.7 626.1 L522.8 626.1 L524.9 626.1 L527.1 626.1 L529.2 626.1 L531.3 626.1 L533.4 626.1 L535.6 626.1 L537.7 626.1 L539.8 626.1 L541.9 626.1 L544.0 626.1 L546.2 626.1 L548.3 626.1 L550.4 626.1 L552.5 626.1 L554.6 626.1 L556.8 626.1 L558.9 626.1 L561.0 626.1 L563.1 626.1 L565.2 626.1 L567.4 626.1 L569.5 626.1 L571.6 626.1 L573.7 626.1 L575.9 626.1 L578.0 626.1 L580.1 626.1 L582.2 626.1 L584.4 626.1 L586.5 626.1 L588.6 626.0 L590.7 626.0 L592.9 626.0 L595.0 626.0 L597.1 626.0 L599.2 626.0 L601.4 626.0 L603.5 626.0 L605.6 626.0 L607.8 626.0 L609.9 626.0 L612.0 626.0 L614.2 625.9 L616.3 625.9 L618.4 625.9 L620.6 625.9 L622.7 625.9 L624.8 625.9 L627.0 625.9 L629.1 625.8 L631.3 625.8 L633.4 625.8 L635.5 625.8 L637.7 625.8 L639.8 625.7 L642.0 625.7 L644.1 625.7 L646.2 625.7 L648.4 625.7 L650.5 625.7 L652.7 625.6 L654.8 625.6 L656.9 625.6 L659.1 625.6 L661.2 625.6 L663.3 625.6 L665.4 625.6 L667.6 625.6 L669.7 625.6 L671.8 625.6 L673.9 625.6 L676.0 625.6 L678.1 625.6 L680.2 625.6 L682.3 625.7 L684.4 625.7 L686.5 625.7 L688.6 625.7 L690.7 625.7 L692.8 625.8 L694.9 625.8 L697.0 625.8 L699.1 625.9 L701.2 625.9 L703.3 625.9 L705.4 626.0 L707.4 626.0 L709.5 626.1 L711.6 626.1 L713.6 626.2 L715.7 626.3 L717.7 626.4 L719.7 626.4 L721.8 626.6 L723.7 626.7 L725.7 626.8 L727.7 627.0 L729.6 627.1 L731.6 627.3 L733.5 627.6 L735.3 627.8 L737.2 628.1 L739.0 628.4 L740.8 628.7 L742.6 629.0 L744.4 629.4 L746.1 629.8 L747.8 630.2 L749.4 630.7 L751.1 631.2 L752.7 631.7 L754.3 632.2 L755.8 632.8 L757.4 633.3 L758.9 634.0 L760.4 634.6 L761.8 635.2 L763.3 635.9 L764.7 636.6 L766.1 637.3 L767.5 638.1 L768.9 638.8 L770.2 639.6 L771.5 640.4 L772.8 641.2 L774.1 642.1 L775.4 642.9 L776.6 643.8 L777.8 644.7 L779.0 645.6 L780.2 646.6 L781.4 647.5 L782.6 648.5 L783.7 649.5 L784.8 650.5 L785.9 651.5 L787.0 652.5 L788.0 653.6 L789.1 654.7 L790.1 655.8 L791.1 656.9 L792.1 658.0 L793.0 659.2 L794.0 660.4 L794.9 661.6 L795.8 662.8 L796.7 664.0 L797.6 665.3 L798.4 666.5 L799.3 667.8 L800.1 669.1 L800.9 670.5 L801.7 671.8 L802.4 673.2 L803.2 674.5 L803.9 675.9 L804.6 677.3 L805.3 678.7 L806.0 680.2 L806.7 681.6 L807.4 683.0 L808.0 684.5 L808.7 686.0 L809.3 687.5 L810.0 689.0 L810.6 690.5 L811.2 692.0 L811.8 693.5 L812.3 695.1 L812.9 696.6 L813.5 698.2 L814.0 699.7 L814.6 701.3 L815.1 702.9 L815.7 704.5 L816.2 706.1 L816.7 707.7 L817.2 709.3 L817.7 710.9 L818.2 712.5 L818.7 714.2 L819.2 715.8 L819.6 717.5 L820.1 719.1 L820.6 720.8 L821.0 722.5 L821.4 724.1 L821.9 725.8 L822.3 727.5 L822.7 729.2 L823.2 730.9 L823.6 732.6 L824.0 734.3 L824.4 736.1 L824.8 737.8 L825.2 739.5 L825.6 741.2 L825.9 743.0 L826.3 744.7 L826.7 746.5 L827.1 748.2 L827.4 750.0 L827.8 751.7 L828.1 753.5 L828.5 755.3 L828.9 757.0 L829.2 758.8 L829.6 760.6 L829.9 762.4 L830.2 764.1 L830.6 765.9 L830.9 767.7 L831.3 769.5 L831.6 771.3 L831.9 773.1 L832.2 774.9 L832.6 776.7 L832.9 778.5 L833.2 780.2 L833.5 782.0 L833.9 783.9 L834.2 785.7 L834.5 787.5 L834.8 789.3 L835.1 791.1 L835.4 792.9 L835.7 794.7 L836.0 796.5 L836.3 798.3 L836.6 800.2 L836.9 802.0 L837.2 803.8 L837.5 805.6 L837.8 807.4 L838.1 809.3 L838.4 811.1 L838.7 812.9 L839.0 814.8 L839.3 816.6 L839.6 818.4 L839.9 820.3 L840.2 822.1 L840.4 823.9 L840.7 825.8 L841.0 827.6 L841.3 829.5 L841.5 831.3 L841.8 833.2 L842.1 835.0 L842.4 836.9 L842.6 838.7 L842.9 840.6 L843.2 842.4 L843.5 844.3 L843.7 846.1 L844.0 848.0 L844.3 849.8 L844.5 851.7 L844.8 853.5 L845.1 855.4 L845.4 857.2 L845.6 859.1 L845.9 860.9 L846.2 862.7 L846.5 864.6 L846.7 866.4 L847.0 868.3 L847.3 870.1 L847.6 872.0 L847.8 873.8 L848.1 875.7 L848.4 877.5 L848.7 879.3 L849.0 881.2 L849.2 883.0 L849.5 884.9 L849.8 886.7 L850.1 888.5 L850.4 890.4 L850.6 892.2 L850.9 894.1 L851.2 895.9 L851.5 897.8 L851.8 899.6 L852.0 901.4 L852.3 903.3 L852.6 905.1 L852.9 907.0 L853.2 908.8 L853.4 910.6 L853.7 912.5 L854.0 914.3 L854.3 916.2 L854.6 918.0 L854.8 919.9 L855.1 921.7 L855.4 923.5 L855.7 925.4 L855.9 927.2 L856.2 929.1 L856.5 930.9 L856.8 932.8 L857.1 934.6 L857.3 936.4 L857.6 938.3 L857.9 940.1 L858.2 942.0 L858.5 943.8 L858.7 945.6 L859.0 947.5 L859.3 949.3 L859.6 951.2 L859.9 953.0 L860.1 954.8 L860.4 956.7 L860.7 958.5 L861.0 960.4 L861.3 962.2 L861.5 964.1 L861.8 965.9 L862.1 967.7 L862.4 969.6 L862.7 971.4 L863.0 973.3 L863.2 975.1 L863.5 976.9 L863.8 978.8 L864.1 980.6 L864.4 982.5 L864.6 984.3 L864.9 986.1 L865.2 988.0 L865.5 989.8 L865.8 991.6 L866.1 993.5 L866.3 995.3 L866.6 997.2 L866.9 999.0 L867.2 1000.8 L867.5 1002.7 L867.8 1004.5 L868.1 1006.3 L868.3 1008.2 L868.6 1010.0 L868.9 1011.8 L869.2 1013.7 L869.5 1015.5 L869.8 1017.3 L870.1 1019.2 L870.4 1021.0 L870.7 1022.8 L871.0 1024.6 L871.3 1026.5 L871.6 1028.3 L871.9 1030.1 L872.2 1031.9 L872.5 1033.7 L872.8 1035.6 L873.1 1037.4 L873.4 1039.2 L873.7 1041.0 L874.0 1042.8 L874.3 1044.6 L874.7 1046.4 L875.0 1048.2 L875.3 1050.0 L875.6 1051.8 L876.0 1053.6 L876.3 1055.4 L876.6 1057.1 L877.0 1058.9 L877.3 1060.7 L877.7 1062.5 L878.0 1064.2 L878.4 1066.0 L878.8 1067.7 L879.1 1069.5 L879.5 1071.2 L879.9 1073.0 L880.3 1074.7 L880.7 1076.4 L881.1 1078.1 L881.5 1079.9 L881.9 1081.6 L882.3 1083.3 L882.8 1085.0 L883.2 1086.6 L883.6 1088.3 L884.1 1090.0 L884.6 1091.7 L885.0 1093.3 L885.5 1095.0 L886.0 1096.6 L886.5 1098.2 L886.9 1099.9 L887.5 1101.5 L888.0 1103.1 L888.5 1104.7 L889.0 1106.3 L889.5 1107.9 L890.1 1109.5 L890.6 1111.1 L891.2 1112.6 L891.7 1114.2 L892.3 1115.7 L892.9 1117.3 L893.4 1118.8 L894.0 1120.4 L894.6 1121.9 L895.2 1123.4 L895.8 1125.0 L896.4 1126.5 L897.0 1128.0 L897.6 1129.5 L898.2 1131.0 L898.8 1132.5 L899.5 1134.0 L900.1 1135.5 L900.7 1137.0 L901.4 1138.5 L902.0 1139.9 L902.7 1141.4 L903.4 1142.9 L904.0 1144.3 L904.7 1145.8 L905.4 1147.2 L906.0 1148.7 L906.7 1150.1 L907.4 1151.5 L908.1 1152.9 L908.8 1154.4 L909.5 1155.8 L910.2 1157.2 L911.0 1158.6 L911.7 1160.0 L912.4 1161.4 L913.2 1162.7 L913.9 1164.1 L914.7 1165.5 L915.5 1166.8 L916.3 1168.1 L917.1 1169.4 L917.9 1170.7 L918.7 1172.0 L919.6 1173.3 L920.5 1174.5 L921.4 1175.8 L922.3 1177.0 L923.2 1178.2 L924.2 1179.3 L925.1 1180.5 L926.1 1181.6 L927.1 1182.7 L928.2 1183.8 L929.2 1184.9 L930.3 1185.9 L931.4 1187.0 L932.5 1188.0 L933.6 1189.0 L934.7 1190.0 L935.9 1190.9 L937.1 1191.9 L938.2 1192.8 L939.4 1193.8 L940.6 1194.7 L941.8 1195.6 L943.1 1196.5 L944.3 1197.4 L945.6 1198.2 L946.8 1199.1 L948.1 1199.9 L949.4 1200.8 L950.7 1201.6 L952.0 1202.4 L953.3 1203.2 L954.7 1204.0 L956.0 1204.7 L957.4 1205.5 L958.8 1206.2 L960.2 1207.0 L961.6 1207.7 L963.0 1208.4 L964.4 1209.1 L965.9 1209.7 L967.4 1210.4 L968.8 1211.0 L970.3 1211.6 L971.9 1212.2 L973.4 1212.8 L975.0 1213.4 L976.5 1213.9 L978.1 1214.5 L979.7 1215.0 L981.3 1215.5 L983.0 1216.0 L984.6 1216.5 L986.3 1216.9 L988.0 1217.4 L989.6 1217.8 L991.3 1218.2 L993.1 1218.6 L994.8 1219.0 L996.5 1219.4 L998.3 1219.8 L1000.0 1220.1 L1001.8 1220.5 L1003.6 1220.8 L1005.4 1221.1 L1007.2 1221.5 L1009.0 1221.8 L1010.8 1222.1 L1012.7 1222.4 L1014.5 1222.6 L1016.4 1222.9 L1018.2 1223.2 L1020.1 1223.4 L1022.0 1223.7 L1023.8 1223.9 L1025.7 1224.1 L1027.6 1224.3 L1029.5 1224.6 L1031.5 1224.8 L1033.4 1225.0 L1035.3 1225.2 L1037.3 1225.3 L1039.2 1225.5 L1041.2 1225.7 L1043.1 1225.8 L1045.1 1226.0 L1047.0 1226.1 L1049.0 1226.3 L1051.0 1226.4 L1053.0 1226.6 L1055.0 1226.7 L1057.0 1226.8 L1059.0 1226.9 L1061.0 1227.0 L1063.0 1227.2 L1065.0 1227.3 L1067.1 1227.4 L1069.1 1227.5 L1071.1 1227.5 L1073.1 1227.6 L1075.2 1227.7 L1077.2 1227.8 L1079.3 1227.9 L1081.3 1228.0 L1083.3 1228.0 L1085.4 1228.1 L1087.4 1228.2 L1089.5 1228.2 L1091.6 1228.3 L1093.6 1228.4 L1095.7 1228.4 L1097.7 1228.5 L1099.8 1228.6 L1101.9 1228.6 L1103.9 1228.7 L1106.0 1228.7 L1108.1 1228.8 L1110.1 1228.8 L1112.2 1228.9 L1114.3 1228.9 L1116.4 1229.0 L1118.4 1229.0 L1120.5 1229.0 L1122.6 1229.1 L1124.7 1229.1 L1126.8 1229.2 L1128.8 1229.2 L1130.9 1229.2 L1133.0 1229.3 L1135.1 1229.3 L1137.2 1229.4 L1139.3 1229.4 L1141.4 1229.4 L1143.4 1229.5 L1145.5 1229.5 L1147.6 1229.5 L1149.7 1229.6 L1151.8 1229.6 L1153.9 1229.6 L1156.0 1229.7 L1158.1 1229.7 L1160.2 1229.7 L1162.3 1229.7 L1164.3 1229.8 L1166.4 1229.8 L1168.5 1229.8 L1170.6 1229.9 L1172.7 1229.9 L1174.8 1229.9 L1176.9 1229.9 L1179.0 1230.0 L1181.1 1230.0 L1183.2 1230.0 L1185.3 1230.0 L1187.4 1230.1 L1189.5 1230.1 L1191.6 1230.1 L1193.7 1230.2 L1195.8 1230.2 L1197.8 1230.2 L1199.9 1230.2 L1202.0 1230.3 L1204.1 1230.3 L1206.2 1230.3 L1208.3 1230.3 L1210.4 1230.3 L1212.5 1230.4 L1214.6 1230.4 L1216.7 1230.4 L1218.8 1230.4 L1220.9 1230.5 L1223.0 1230.5 L1225.1 1230.5 L1227.2 1230.5 L1229.3 1230.6 L1231.4 1230.6 L1233.5 1230.6 L1235.6 1230.6 L1237.7 1230.6 L1239.8 1230.7 L1241.9 1230.7 L1244.0 1230.7 L1246.1 1230.7 L1248.2 1230.7 L1250.3 1230.7 L1252.4 1230.8 L1254.5 1230.8 L1256.6 1230.8 L1258.8 1230.8 L1260.9 1230.8 L1263.0 1230.9 L1265.1 1230.9 L1267.2 1230.9 L1269.3 1230.9 L1271.4 1230.9 L1273.5 1230.9 L1275.6 1230.9 L1277.7 1231.0 L1279.8 1231.0 L1281.9 1231.0 L1284.0 1231.0 L1286.1 1231.0 L1288.2 1231.0 L1290.3 1231.0 L1292.5 1231.1 L1294.6 1231.1 L1296.7 1231.1 L1298.8 1231.1 L1300.9 1231.1 L1303.0 1231.1 L1305.1 1231.1 L1307.2 1231.1 L1309.3 1231.1 L1311.4 1231.2 L1313.6 1231.2 L1315.7 1231.2 L1317.8 1231.2 L1319.9 1231.2 L1322.0 1231.2 L1324.1 1231.2 L1326.2 1231.2 L1328.3 1231.2 L1330.5 1231.2 L1332.6 1231.2 L1334.7 1231.3 L1336.8 1231.3 L1338.9 1231.3 L1341.0 1231.3 L1343.1 1231.3 L1345.3 1231.3 L1347.4 1231.3 L1349.5 1231.3 L1351.6 1231.3 L1353.7 1231.3 L1355.8 1231.3 L1358.0 1231.3 L1360.1 1231.3 L1362.2 1231.3 L1364.3 1231.3 L1366.4 1231.3 L1368.5 1231.3 L1370.7 1231.3 L1372.8 1231.3 L1374.9 1231.3 L1377.0 1231.3 L1379.1 1231.4 L1381.3 1231.4 L1383.4 1231.4 L1385.5 1231.4 L1387.6 1231.4 L1389.7 1231.4 L1391.9 1231.4 L1394.0 1231.4 L1396.1 1231.4 L1398.2 1231.4 L1400.3 1231.4 L1402.4 1231.4 L1404.6 1231.4 L1406.7 1231.4 L1408.8 1231.4 L1410.9 1231.4 L1413.0 1231.4 L1415.2 1231.4 L1417.3 1231.4 L1419.4 1231.4 L1421.5 1231.4 L1423.7 1231.4 L1425.8 1231.4 L1427.9 1231.4 L1430.0 1231.4 L1432.1 1231.4 L1434.3 1231.4 L1436.4 1231.4 L1438.5 1231.4 L1440.6 1231.4 L1442.7 1231.4 L1444.9 1231.4 L1447.0 1231.4 L1449.1 1231.4 L1451.2 1231.4 L1453.3 1231.4 L1455.5 1231.4 L1457.6 1231.4 L1459.7 1231.4 L1461.8 1231.4 L1463.9 1231.4 L1466.1 1231.4 L1468.2 1231.4 L1470.3 1231.4 L1472.4 1231.4 L1474.6 1231.4 L1476.7 1231.4 L1478.8 1231.4 L1480.9 1231.4 L1483.0 1231.4 L1485.2 1231.4 L1487.3 1231.4 L1489.4 1231.4 L1491.5 1231.4 L1493.6 1231.4 L1495.8 1231.4 L1497.9 1231.4 L1500.0 1231.4 L1502.1 1231.4 L1504.2 1231.4 L1506.4 1231.4 L1508.5 1231.4 L1510.6 1231.4 L1512.7 1231.4 L1514.8 1231.4 L1517.0 1231.4 L1519.1 1231.4 L1521.2 1231.4 L1523.3 1231.4 L1525.4 1231.4 L1527.6 1231.4 L1529.7 1231.4 L1531.8 1231.4 L1533.9 1231.4 L1536.0 1231.4 L1538.2 1231.4 L1540.3 1231.4 L1542.4 1231.4 L1544.5 1231.4 L1546.6 1231.4 L1548.8 1231.4 L1550.9 1231.4 L1553.0 1231.4 L1555.1 1231.4 L1557.2 1231.4 L1559.4 1231.4 L1561.5 1231.4 L1563.6 1231.4 L1565.7 1231.4 L1567.8 1231.4 L1570.0 1231.4 L1572.1 1231.4 L1574.2 1231.4 L1576.3 1231.5 L1578.4 1231.5 L1580.6 1231.5 L1582.7 1231.5 L1584.8 1231.5 L1586.9 1231.5 L1589.0 1231.5 L1591.2 1231.5 L1593.3 1231.5 L1595.4 1231.5 L1597.5 1231.5 L1599.6 1231.5 L1601.8 1231.5 L1603.9 1231.5 L1606.0 1231.5 L1608.1 1231.5 L1610.2 1231.5 L1612.4 1231.5 L1614.5 1231.5 L1616.6 1231.5 L1618.7 1231.5 L1620.8 1231.5 L1623.0 1231.5 L1625.1 1231.5 L1627.2 1231.5 L1629.3 1231.5 L1631.5 1231.5 L1633.6 1231.5 L1635.7 1231.5 L1637.8 1231.5 L1639.9 1231.5 L1642.1 1231.5 L1644.2 1231.5 L1646.3 1231.5 L1648.4 1231.5 L1650.5 1231.5 L1652.7 1231.5 L1654.8 1231.5 L1656.9 1231.5 L1659.0 1231.5 L1661.1 1231.5 L1663.3 1231.5 L1665.4 1231.5 L1667.5 1231.5 L1669.6 1231.5 L1671.7 1231.5 L1673.9 1231.5 L1676.0 1231.5 L1678.1 1231.5 L1680.2 1231.5 L1682.4 1231.5 L1684.5 1231.5 L1686.6 1231.5 L1688.7 1231.5 L1690.8 1231.5 L1693.0 1231.5 L1695.1 1231.5 L1697.2 1231.5 L1699.3 1231.5 L1701.4 1231.5 L1703.6 1231.5 L1705.7 1231.5 L1707.8 1231.5 L1709.9 1231.5 L1712.1 1231.5 L1714.2 1231.5 L1716.3 1231.5 L1718.4 1231.5 L1720.5 1231.5 L1722.7 1231.5 L1724.8 1231.5 L1726.9 1231.5 L1729.0 1231.5 L1731.2 1231.5 L1733.3 1231.5 L1735.4 1231.5 L1737.5 1231.5 L1739.6 1231.5 L1741.8 1231.5 L1743.9 1231.5 L1746.0 1231.5 L1748.1 1231.5 L1750.2 1231.5 L1752.4 1231.5 L1754.5 1231.5 L1756.6 1231.5 L1758.7 1231.5 L1760.9 1231.5 L1763.0 1231.5 L1765.1 1231.5 L1767.2 1231.5 L1769.3 1231.5 L1771.5 1231.5 L1773.6 1231.5 L1775.7 1231.5 L1777.8 1231.5 L1780.0 1231.5 L1782.1 1231.5 L1784.2 1231.5 L1786.3 1231.5 L1788.4 1231.5 L1790.6 1231.5 L1792.7 1231.5 L1794.8 1231.5 L1796.9 1231.4 L1799.1 1231.4 L1801.2 1231.4 L1803.3 1231.4 L1805.4 1231.4 L1807.6 1231.4 L1809.7 1231.4 L1811.8 1231.4 L1813.9 1231.4 L1816.0 1231.4 L1818.2 1231.4 L1820.3 1231.4 L1822.4 1231.4 L1824.5 1231.4 L1826.7 1231.4 L1828.8 1231.4 L1830.9 1231.4 L1833.0 1231.4 L1835.1 1231.4 L1837.3 1231.4 L1839.4 1231.4 L1841.5 1231.4 L1843.6 1231.4 L1845.8 1231.4 L1847.9 1231.4 L1850.0 1231.4 L1852.1 1231.4 L1854.3 1231.4 L1856.4 1231.4 L1858.5 1231.4 L1860.6 1231.4 L1862.0 1231.4" stroke="#c07aee" stroke-width="5.8" fill="none" stroke-linejoin="round" stroke-linecap="butt"/>
<path d="M334.0 827.8 L336.1 827.8 L338.2 827.8 L340.4 827.8 L342.5 827.8 L344.6 827.8 L346.7 827.8 L348.8 827.8 L351.0 827.8 L353.1 827.8 L355.2 827.8 L357.3 827.8 L359.5 827.8 L361.6 827.8 L363.7 827.8 L365.8 827.8 L367.9 827.8 L370.1 827.8 L372.2 827.8 L374.3 827.8 L376.4 827.8 L378.5 827.8 L380.7 827.8 L382.8 827.8 L384.9 827.8 L387.0 827.8 L389.2 827.8 L391.3 827.8 L393.4 827.8 L395.5 827.8 L397.6 827.8 L399.8 827.8 L401.9 827.8 L404.0 827.8 L406.1 827.8 L408.2 827.8 L410.4 827.8 L412.5 827.8 L414.6 827.8 L416.7 827.8 L418.9 827.8 L421.0 827.8 L423.1 827.8 L425.2 827.8 L427.3 827.8 L429.5 827.8 L431.6 827.8 L433.7 827.8 L435.8 827.8 L437.9 827.8 L440.1 827.8 L442.2 827.8 L444.3 827.8 L446.4 827.8 L448.6 827.8 L450.7 827.8 L452.8 827.8 L454.9 827.8 L457.0 827.8 L459.2 827.8 L461.3 827.8 L463.4 827.8 L465.5 827.8 L467.6 827.8 L469.8 827.8 L471.9 827.8 L474.0 827.8 L476.1 827.8 L478.2 827.8 L480.4 827.8 L482.5 827.8 L484.6 827.8 L486.7 827.8 L488.9 827.8 L491.0 827.8 L493.1 827.8 L495.2 827.8 L497.3 827.8 L499.5 827.8 L501.6 827.8 L503.7 827.8 L505.8 827.8 L507.9 827.8 L510.1 827.8 L512.2 827.8 L514.3 827.8 L516.4 827.8 L518.6 827.8 L520.7 827.8 L522.8 827.8 L524.9 827.8 L527.0 827.8 L529.2 827.8 L531.3 827.8 L533.4 827.8 L535.5 827.8 L537.6 827.8 L539.8 827.8 L541.9 827.8 L544.0 827.8 L546.1 827.8 L548.3 827.8 L550.4 827.8 L552.5 827.8 L554.6 827.8 L556.7 827.8 L558.9 827.8 L561.0 827.8 L563.1 827.8 L565.2 827.8 L567.3 827.8 L569.5 827.8 L571.6 827.8 L573.7 827.8 L575.8 827.8 L578.0 827.8 L580.1 827.8 L582.2 827.8 L584.3 827.8 L586.4 827.8 L588.6 827.8 L590.7 827.8 L592.8 827.8 L594.9 827.8 L597.1 827.8 L599.2 827.8 L601.3 827.8 L603.4 827.8 L605.5 827.8 L607.7 827.8 L609.8 827.8 L611.9 827.8 L614.0 827.8 L616.2 827.8 L618.3 827.8 L620.4 827.8 L622.5 827.8 L624.6 827.8 L626.8 827.8 L628.9 827.8 L631.0 827.8 L633.1 827.8 L635.3 827.8 L637.4 827.8 L639.5 827.8 L641.6 827.8 L643.8 827.7 L645.9 827.7 L648.0 827.7 L650.1 827.7 L652.3 827.7 L654.4 827.7 L656.5 827.7 L658.7 827.7 L660.8 827.7 L662.9 827.7 L665.1 827.7 L667.2 827.7 L669.3 827.7 L671.4 827.6 L673.6 827.6 L675.7 827.6 L677.8 827.6 L680.0 827.6 L682.1 827.6 L684.2 827.6 L686.4 827.6 L688.5 827.5 L690.6 827.5 L692.8 827.5 L694.9 827.5 L697.0 827.5 L699.2 827.5 L701.3 827.5 L703.4 827.5 L705.5 827.5 L707.7 827.5 L709.8 827.5 L711.9 827.5 L714.0 827.5 L716.2 827.5 L718.3 827.5 L720.4 827.5 L722.5 827.5 L724.6 827.5 L726.7 827.5 L728.8 827.5 L730.9 827.5 L733.1 827.6 L735.2 827.6 L737.3 827.6 L739.4 827.6 L741.5 827.6 L743.6 827.7 L745.6 827.7 L747.7 827.7 L749.8 827.7 L751.9 827.8 L754.0 827.8 L756.1 827.9 L758.1 827.9 L760.2 828.0 L762.3 828.0 L764.3 828.1 L766.4 828.2 L768.4 828.3 L770.4 828.4 L772.5 828.5 L774.5 828.6 L776.4 828.7 L778.4 828.9 L780.4 829.0 L782.3 829.2 L784.3 829.4 L786.2 829.6 L788.1 829.8 L790.0 830.0 L791.8 830.3 L793.7 830.6 L795.5 830.9 L797.3 831.2 L799.1 831.5 L800.9 831.8 L802.7 832.2 L804.4 832.5 L806.2 832.9 L807.9 833.3 L809.6 833.7 L811.3 834.1 L813.0 834.5 L814.7 835.0 L816.4 835.4 L818.1 835.9 L819.7 836.3 L821.4 836.8 L823.0 837.3 L824.6 837.8 L826.2 838.3 L827.8 838.8 L829.4 839.4 L831.0 839.9 L832.6 840.4 L834.2 841.0 L835.7 841.6 L837.3 842.2 L838.8 842.7 L840.3 843.4 L841.8 844.0 L843.3 844.6 L844.8 845.3 L846.2 845.9 L847.7 846.6 L849.1 847.3 L850.5 848.0 L851.9 848.7 L853.3 849.5 L854.6 850.2 L856.0 851.0 L857.3 851.8 L858.6 852.6 L859.9 853.5 L861.1 854.3 L862.4 855.2 L863.6 856.1 L864.8 857.0 L866.0 857.9 L867.2 858.9 L868.3 859.9 L869.4 860.9 L870.6 861.9 L871.7 862.9 L872.7 864.0 L873.8 865.0 L874.8 866.1 L875.8 867.2 L876.8 868.3 L877.8 869.4 L878.8 870.6 L879.8 871.8 L880.7 872.9 L881.7 874.1 L882.6 875.3 L883.5 876.5 L884.4 877.7 L885.3 878.9 L886.2 880.2 L887.1 881.4 L888.0 882.7 L888.8 883.9 L889.7 885.2 L890.6 886.4 L891.4 887.7 L892.3 888.9 L893.1 890.2 L894.0 891.5 L894.8 892.8 L895.6 894.1 L896.4 895.4 L897.3 896.7 L898.1 898.0 L898.9 899.3 L899.7 900.6 L900.5 902.0 L901.3 903.3 L902.0 904.7 L902.8 906.0 L903.6 907.4 L904.3 908.7 L905.1 910.1 L905.8 911.5 L906.6 912.9 L907.3 914.3 L908.0 915.7 L908.7 917.1 L909.4 918.5 L910.1 919.9 L910.8 921.4 L911.4 922.8 L912.1 924.3 L912.8 925.7 L913.4 927.2 L914.1 928.7 L914.7 930.2 L915.3 931.7 L916.0 933.2 L916.6 934.7 L917.2 936.2 L917.8 937.7 L918.4 939.2 L919.0 940.7 L919.6 942.2 L920.3 943.7 L920.9 945.2 L921.5 946.7 L922.1 948.2 L922.7 949.8 L923.3 951.3 L923.9 952.8 L924.5 954.3 L925.1 955.8 L925.7 957.4 L926.3 958.9 L926.9 960.4 L927.5 961.9 L928.1 963.5 L928.7 965.0 L929.3 966.5 L929.8 968.0 L930.4 969.6 L931.0 971.1 L931.6 972.6 L932.2 974.2 L932.8 975.7 L933.4 977.3 L933.9 978.8 L934.5 980.3 L935.1 981.9 L935.7 983.4 L936.3 985.0 L936.8 986.5 L937.4 988.1 L938.0 989.6 L938.6 991.2 L939.1 992.7 L939.7 994.3 L940.3 995.8 L940.9 997.3 L941.4 998.9 L942.0 1000.4 L942.6 1002.0 L943.1 1003.5 L943.7 1005.1 L944.3 1006.6 L944.9 1008.2 L945.4 1009.7 L946.0 1011.3 L946.6 1012.8 L947.2 1014.4 L947.7 1015.9 L948.3 1017.5 L948.9 1019.0 L949.5 1020.6 L950.1 1022.1 L950.6 1023.6 L951.2 1025.2 L951.8 1026.7 L952.4 1028.3 L953.0 1029.8 L953.5 1031.3 L954.1 1032.9 L954.7 1034.4 L955.3 1035.9 L955.9 1037.5 L956.5 1039.0 L957.1 1040.5 L957.7 1042.0 L958.3 1043.6 L958.9 1045.1 L959.5 1046.6 L960.1 1048.1 L960.7 1049.7 L961.3 1051.2 L961.9 1052.7 L962.5 1054.2 L963.1 1055.7 L963.7 1057.2 L964.3 1058.7 L964.9 1060.2 L965.5 1061.7 L966.2 1063.3 L966.8 1064.8 L967.4 1066.3 L968.0 1067.8 L968.7 1069.2 L969.3 1070.7 L969.9 1072.2 L970.5 1073.7 L971.2 1075.2 L971.8 1076.7 L972.4 1078.2 L973.1 1079.7 L973.7 1081.2 L974.4 1082.6 L975.0 1084.1 L975.7 1085.6 L976.3 1087.1 L977.0 1088.5 L977.6 1090.0 L978.3 1091.5 L978.9 1092.9 L979.6 1094.4 L980.2 1095.8 L980.9 1097.3 L981.6 1098.8 L982.2 1100.2 L982.9 1101.7 L983.6 1103.1 L984.3 1104.6 L984.9 1106.0 L985.6 1107.4 L986.3 1108.9 L987.0 1110.3 L987.7 1111.7 L988.4 1113.2 L989.1 1114.6 L989.8 1116.0 L990.5 1117.4 L991.2 1118.8 L991.9 1120.2 L992.6 1121.6 L993.4 1123.0 L994.1 1124.4 L994.8 1125.8 L995.6 1127.2 L996.3 1128.6 L997.1 1129.9 L997.8 1131.3 L998.6 1132.6 L999.4 1134.0 L1000.1 1135.3 L1000.9 1136.7 L1001.7 1138.0 L1002.5 1139.4 L1003.3 1140.7 L1004.1 1142.0 L1004.9 1143.3 L1005.7 1144.7 L1006.5 1146.0 L1007.3 1147.3 L1008.1 1148.6 L1008.9 1149.9 L1009.8 1151.2 L1010.6 1152.5 L1011.4 1153.7 L1012.3 1155.0 L1013.1 1156.3 L1014.0 1157.6 L1014.8 1158.8 L1015.7 1160.1 L1016.6 1161.3 L1017.5 1162.6 L1018.3 1163.8 L1019.2 1165.0 L1020.1 1166.3 L1021.0 1167.5 L1021.9 1168.7 L1022.8 1169.9 L1023.8 1171.1 L1024.7 1172.3 L1025.6 1173.5 L1026.5 1174.7 L1027.5 1175.9 L1028.4 1177.0 L1029.4 1178.2 L1030.4 1179.3 L1031.4 1180.5 L1032.4 1181.6 L1033.4 1182.7 L1034.4 1183.8 L1035.5 1184.9 L1036.5 1185.9 L1037.6 1187.0 L1038.7 1188.0 L1039.8 1189.0 L1040.9 1190.1 L1042.0 1191.0 L1043.2 1192.0 L1044.3 1193.0 L1045.5 1193.9 L1046.7 1194.8 L1047.9 1195.8 L1049.1 1196.6 L1050.4 1197.5 L1051.6 1198.4 L1052.9 1199.2 L1054.2 1200.1 L1055.5 1200.9 L1056.8 1201.7 L1058.2 1202.5 L1059.5 1203.2 L1060.9 1204.0 L1062.3 1204.7 L1063.7 1205.4 L1065.1 1206.1 L1066.5 1206.8 L1068.0 1207.5 L1069.5 1208.1 L1071.0 1208.8 L1072.5 1209.4 L1074.0 1210.0 L1075.5 1210.6 L1077.1 1211.1 L1078.7 1211.7 L1080.3 1212.2 L1081.9 1212.7 L1083.5 1213.2 L1085.2 1213.6 L1086.8 1214.1 L1088.5 1214.5 L1090.2 1215.0 L1091.9 1215.4 L1093.7 1215.8 L1095.4 1216.2 L1097.2 1216.5 L1098.9 1216.9 L1100.7 1217.2 L1102.5 1217.6 L1104.3 1217.9 L1106.1 1218.2 L1107.9 1218.5 L1109.7 1218.8 L1111.6 1219.1 L1113.4 1219.4 L1115.3 1219.6 L1117.1 1219.9 L1119.0 1220.1 L1120.9 1220.4 L1122.7 1220.6 L1124.6 1220.9 L1126.5 1221.1 L1128.4 1221.3 L1130.3 1221.5 L1132.3 1221.7 L1134.2 1221.9 L1136.1 1222.1 L1138.0 1222.3 L1140.0 1222.5 L1141.9 1222.7 L1143.9 1222.8 L1145.8 1223.0 L1147.8 1223.2 L1149.7 1223.3 L1151.7 1223.5 L1153.7 1223.6 L1155.6 1223.8 L1157.6 1223.9 L1159.6 1224.1 L1161.6 1224.2 L1163.6 1224.4 L1165.6 1224.5 L1167.5 1224.6 L1169.5 1224.7 L1171.5 1224.9 L1173.5 1225.0 L1175.5 1225.1 L1177.5 1225.2 L1179.6 1225.3 L1181.6 1225.4 L1183.6 1225.6 L1185.6 1225.7 L1187.6 1225.8 L1189.6 1225.9 L1191.7 1226.0 L1193.7 1226.1 L1195.7 1226.2 L1197.7 1226.3 L1199.8 1226.3 L1201.8 1226.4 L1203.8 1226.5 L1205.9 1226.6 L1207.9 1226.7 L1209.9 1226.8 L1212.0 1226.9 L1214.0 1226.9 L1216.1 1227.0 L1218.1 1227.1 L1220.2 1227.2 L1222.2 1227.2 L1224.3 1227.3 L1226.3 1227.4 L1228.4 1227.5 L1230.4 1227.5 L1232.5 1227.6 L1234.5 1227.7 L1236.6 1227.7 L1238.6 1227.8 L1240.7 1227.8 L1242.7 1227.9 L1244.8 1228.0 L1246.9 1228.0 L1248.9 1228.1 L1251.0 1228.1 L1253.1 1228.2 L1255.1 1228.3 L1257.2 1228.3 L1259.3 1228.4 L1261.3 1228.4 L1263.4 1228.5 L1265.5 1228.5 L1267.5 1228.6 L1269.6 1228.6 L1271.7 1228.7 L1273.8 1228.7 L1275.8 1228.8 L1277.9 1228.8 L1280.0 1228.8 L1282.1 1228.9 L1284.2 1228.9 L1286.2 1229.0 L1288.3 1229.0 L1290.4 1229.0 L1292.5 1229.1 L1294.6 1229.1 L1296.6 1229.2 L1298.7 1229.2 L1300.8 1229.2 L1302.9 1229.3 L1305.0 1229.3 L1307.1 1229.3 L1309.2 1229.4 L1311.2 1229.4 L1313.3 1229.4 L1315.4 1229.5 L1317.5 1229.5 L1319.6 1229.5 L1321.7 1229.6 L1323.8 1229.6 L1325.9 1229.6 L1328.0 1229.7 L1330.1 1229.7 L1332.2 1229.7 L1334.3 1229.7 L1336.4 1229.8 L1338.4 1229.8 L1340.5 1229.8 L1342.6 1229.8 L1344.7 1229.9 L1346.8 1229.9 L1348.9 1229.9 L1351.0 1229.9 L1353.1 1229.9 L1355.2 1230.0 L1357.3 1230.0 L1359.4 1230.0 L1361.5 1230.0 L1363.7 1230.0 L1365.8 1230.1 L1367.9 1230.1 L1370.0 1230.1 L1372.1 1230.1 L1374.2 1230.1 L1376.3 1230.1 L1378.4 1230.2 L1380.5 1230.2 L1382.6 1230.2 L1384.7 1230.2 L1386.8 1230.2 L1388.9 1230.2 L1391.0 1230.2 L1393.1 1230.2 L1395.3 1230.3 L1397.4 1230.3 L1399.5 1230.3 L1401.6 1230.3 L1403.7 1230.3 L1405.8 1230.3 L1407.9 1230.3 L1410.0 1230.3 L1412.2 1230.3 L1414.3 1230.3 L1416.4 1230.3 L1418.5 1230.4 L1420.6 1230.4 L1422.7 1230.4 L1424.8 1230.4 L1426.9 1230.4 L1429.1 1230.4 L1431.2 1230.4 L1433.3 1230.4 L1435.4 1230.4 L1437.5 1230.4 L1439.6 1230.4 L1441.7 1230.4 L1443.9 1230.4 L1446.0 1230.4 L1448.1 1230.5 L1450.2 1230.5 L1452.3 1230.5 L1454.4 1230.5 L1456.6 1230.5 L1458.7 1230.5 L1460.8 1230.5 L1462.9 1230.5 L1465.0 1230.5 L1467.1 1230.5 L1469.2 1230.5 L1471.4 1230.5 L1473.5 1230.5 L1475.6 1230.5 L1477.7 1230.5 L1479.8 1230.5 L1481.9 1230.6 L1484.0 1230.6 L1486.2 1230.6 L1488.3 1230.6 L1490.4 1230.6 L1492.5 1230.6 L1494.6 1230.6 L1496.7 1230.6 L1498.8 1230.6 L1501.0 1230.6 L1503.1 1230.6 L1505.2 1230.6 L1507.3 1230.6 L1509.4 1230.6 L1511.5 1230.7 L1513.6 1230.7 L1515.8 1230.7 L1517.9 1230.7 L1520.0 1230.7 L1522.1 1230.7 L1524.2 1230.7 L1526.3 1230.7 L1528.4 1230.7 L1530.5 1230.7 L1532.7 1230.7 L1534.8 1230.7 L1536.9 1230.8 L1539.0 1230.8 L1541.1 1230.8 L1543.2 1230.8 L1545.3 1230.8 L1547.5 1230.8 L1549.6 1230.8 L1551.7 1230.8 L1553.8 1230.8 L1555.9 1230.8 L1558.0 1230.8 L1560.1 1230.8 L1562.2 1230.8 L1564.4 1230.9 L1566.5 1230.9 L1568.6 1230.9 L1570.7 1230.9 L1572.8 1230.9 L1574.9 1230.9 L1577.0 1230.9 L1579.2 1230.9 L1581.3 1230.9 L1583.4 1230.9 L1585.5 1230.9 L1587.6 1230.9 L1589.7 1230.9 L1591.8 1230.9 L1594.0 1231.0 L1596.1 1231.0 L1598.2 1231.0 L1600.3 1231.0 L1602.4 1231.0 L1604.5 1231.0 L1606.6 1231.0 L1608.8 1231.0 L1610.9 1231.0 L1613.0 1231.0 L1615.1 1231.0 L1617.2 1231.0 L1619.3 1231.0 L1621.5 1231.0 L1623.6 1231.0 L1625.7 1231.0 L1627.8 1231.1 L1629.9 1231.1 L1632.0 1231.1 L1634.1 1231.1 L1636.3 1231.1 L1638.4 1231.1 L1640.5 1231.1 L1642.6 1231.1 L1644.7 1231.1 L1646.8 1231.1 L1649.0 1231.1 L1651.1 1231.1 L1653.2 1231.1 L1655.3 1231.1 L1657.4 1231.1 L1659.5 1231.1 L1661.7 1231.1 L1663.8 1231.1 L1665.9 1231.1 L1668.0 1231.1 L1670.1 1231.2 L1672.2 1231.2 L1674.4 1231.2 L1676.5 1231.2 L1678.6 1231.2 L1680.7 1231.2 L1682.8 1231.2 L1685.0 1231.2 L1687.1 1231.2 L1689.2 1231.2 L1691.3 1231.2 L1693.4 1231.2 L1695.5 1231.2 L1697.7 1231.2 L1699.8 1231.2 L1701.9 1231.2 L1704.0 1231.2 L1706.1 1231.2 L1708.3 1231.2 L1710.4 1231.2 L1712.5 1231.2 L1714.6 1231.2 L1716.7 1231.2 L1718.8 1231.2 L1721.0 1231.2 L1723.1 1231.2 L1725.2 1231.2 L1727.3 1231.2 L1729.4 1231.2 L1731.6 1231.2 L1733.7 1231.2 L1735.8 1231.2 L1737.9 1231.2 L1740.0 1231.2 L1742.2 1231.2 L1744.3 1231.3 L1746.4 1231.3 L1748.5 1231.3 L1750.6 1231.3 L1752.8 1231.3 L1754.9 1231.3 L1757.0 1231.3 L1759.1 1231.3 L1761.2 1231.3 L1763.4 1231.3 L1765.5 1231.3 L1767.6 1231.3 L1769.7 1231.3 L1771.8 1231.3 L1774.0 1231.3 L1776.1 1231.3 L1778.2 1231.3 L1780.3 1231.3 L1782.4 1231.3 L1784.6 1231.3 L1786.7 1231.3 L1788.8 1231.3 L1790.9 1231.3 L1793.1 1231.3 L1795.2 1231.3 L1797.3 1231.3 L1799.4 1231.3 L1801.5 1231.3 L1803.7 1231.3 L1805.8 1231.3 L1807.9 1231.3 L1810.0 1231.3 L1812.2 1231.3 L1814.3 1231.3 L1816.4 1231.3 L1818.5 1231.2 L1820.6 1231.2 L1822.8 1231.2 L1824.9 1231.2 L1827.0 1231.2 L1829.1 1231.2 L1831.3 1231.2 L1833.4 1231.2 L1835.5 1231.2 L1837.6 1231.2 L1839.8 1231.2 L1841.9 1231.2 L1844.0 1231.2 L1846.1 1231.2 L1848.3 1231.2 L1850.4 1231.2 L1852.5 1231.2 L1854.6 1231.2 L1856.8 1231.2 L1858.9 1231.2 L1861.0 1231.2 L1861.7 1231.2" stroke="#00dede" stroke-width="6.0" fill="none" stroke-linejoin="round" stroke-linecap="butt"/>
<path d="M334.0 1029.0 L336.1 1029.0 L338.2 1029.0 L340.4 1029.0 L342.5 1029.0 L344.6 1029.0 L346.7 1029.0 L348.8 1029.0 L351.0 1029.0 L353.1 1029.0 L355.2 1029.0 L357.3 1029.0 L359.5 1029.0 L361.6 1029.0 L363.7 1029.0 L365.8 1029.0 L367.9 1029.0 L370.1 1029.0 L372.2 1029.0 L374.3 1029.0 L376.4 1029.0 L378.5 1029.0 L380.7 1029.0 L382.8 1029.0 L384.9 1029.0 L387.0 1029.0 L389.2 1029.0 L391.3 1029.0 L393.4 1029.0 L395.5 1029.0 L397.6 1029.0 L399.8 1029.0 L401.9 1029.0 L404.0 1029.0 L406.1 1029.0 L408.2 1029.0 L410.4 1029.0 L412.5 1029.0 L414.6 1029.0 L416.7 1029.0 L418.9 1029.0 L421.0 1029.0 L423.1 1029.0 L425.2 1029.0 L427.3 1029.0 L429.5 1029.0 L431.6 1029.0 L433.7 1029.0 L435.8 1029.0 L437.9 1029.0 L440.1 1029.0 L442.2 1029.0 L444.3 1029.0 L446.4 1029.0 L448.6 1029.0 L450.7 1029.0 L452.8 1029.0 L454.9 1029.0 L457.0 1029.0 L459.2 1029.0 L461.3 1029.0 L463.4 1029.0 L465.5 1029.0 L467.6 1029.0 L469.8 1029.0 L471.9 1029.0 L474.0 1029.0 L476.1 1029.0 L478.2 1029.0 L480.4 1029.0 L482.5 1029.0 L484.6 1029.0 L486.7 1029.0 L488.9 1029.0 L491.0 1029.0 L493.1 1029.0 L495.2 1029.0 L497.3 1029.0 L499.5 1029.0 L501.6 1029.0 L503.7 1029.0 L505.8 1029.0 L507.9 1029.0 L510.1 1029.0 L512.2 1029.0 L514.3 1029.0 L516.4 1029.0 L518.5 1029.0 L520.7 1029.0 L522.8 1029.0 L524.9 1029.0 L527.0 1029.0 L529.2 1029.0 L531.3 1029.0 L533.4 1029.0 L535.5 1029.0 L537.6 1029.0 L539.8 1029.0 L541.9 1029.0 L544.0 1029.0 L546.1 1029.0 L548.2 1029.0 L550.4 1029.0 L552.5 1029.0 L554.6 1029.0 L556.7 1029.0 L558.8 1029.0 L561.0 1029.0 L563.1 1029.0 L565.2 1029.0 L567.3 1029.0 L569.5 1029.0 L571.6 1029.0 L573.7 1029.0 L575.8 1029.0 L577.9 1029.0 L580.1 1029.0 L582.2 1029.0 L584.3 1029.0 L586.4 1029.0 L588.6 1029.0 L590.7 1029.0 L592.8 1029.0 L594.9 1029.0 L597.1 1029.0 L599.2 1029.0 L601.3 1029.0 L603.4 1029.0 L605.6 1029.0 L607.7 1029.0 L609.8 1029.0 L611.9 1028.9 L614.1 1028.9 L616.2 1028.9 L618.3 1028.9 L620.5 1028.9 L622.6 1028.9 L624.7 1028.9 L626.8 1028.9 L629.0 1028.9 L631.1 1028.9 L633.2 1028.9 L635.4 1028.9 L637.5 1028.8 L639.6 1028.8 L641.8 1028.8 L643.9 1028.8 L646.0 1028.8 L648.2 1028.8 L650.3 1028.8 L652.4 1028.8 L654.6 1028.8 L656.7 1028.7 L658.8 1028.7 L661.0 1028.7 L663.1 1028.7 L665.2 1028.7 L667.4 1028.7 L669.5 1028.7 L671.6 1028.7 L673.8 1028.6 L675.9 1028.6 L678.0 1028.6 L680.2 1028.6 L682.3 1028.6 L684.4 1028.6 L686.6 1028.6 L688.7 1028.6 L690.8 1028.5 L693.0 1028.5 L695.1 1028.5 L697.2 1028.5 L699.4 1028.5 L701.5 1028.5 L703.6 1028.5 L705.8 1028.5 L707.9 1028.5 L710.0 1028.5 L712.1 1028.5 L714.3 1028.4 L716.4 1028.4 L718.5 1028.4 L720.7 1028.4 L722.8 1028.4 L724.9 1028.4 L727.0 1028.4 L729.2 1028.4 L731.3 1028.4 L733.4 1028.4 L735.5 1028.4 L737.6 1028.4 L739.8 1028.4 L741.9 1028.4 L744.0 1028.4 L746.1 1028.4 L748.2 1028.4 L750.3 1028.4 L752.4 1028.5 L754.6 1028.5 L756.7 1028.5 L758.8 1028.5 L760.9 1028.5 L763.0 1028.5 L765.1 1028.5 L767.2 1028.5 L769.3 1028.6 L771.4 1028.6 L773.5 1028.6 L775.6 1028.6 L777.7 1028.7 L779.8 1028.7 L781.9 1028.7 L784.0 1028.7 L786.1 1028.8 L788.2 1028.8 L790.3 1028.8 L792.3 1028.9 L794.4 1028.9 L796.5 1028.9 L798.6 1029.0 L800.7 1029.0 L802.7 1029.1 L804.8 1029.1 L806.9 1029.2 L809.0 1029.2 L811.0 1029.3 L813.1 1029.3 L815.2 1029.4 L817.2 1029.4 L819.3 1029.5 L821.3 1029.6 L823.4 1029.6 L825.4 1029.7 L827.5 1029.8 L829.5 1029.8 L831.6 1029.9 L833.6 1030.0 L835.7 1030.1 L837.7 1030.2 L839.8 1030.2 L841.8 1030.3 L843.8 1030.4 L845.8 1030.5 L847.9 1030.6 L849.9 1030.7 L851.9 1030.8 L853.9 1030.9 L855.9 1031.0 L858.0 1031.1 L860.0 1031.2 L862.0 1031.4 L864.0 1031.5 L866.0 1031.6 L868.0 1031.7 L870.0 1031.8 L872.0 1032.0 L873.9 1032.1 L875.9 1032.3 L877.9 1032.4 L879.9 1032.5 L881.9 1032.7 L883.8 1032.8 L885.8 1033.0 L887.7 1033.2 L889.7 1033.3 L891.7 1033.5 L893.6 1033.7 L895.6 1033.8 L897.5 1034.0 L899.4 1034.2 L901.4 1034.4 L903.3 1034.6 L905.2 1034.8 L907.2 1034.9 L909.1 1035.1 L911.0 1035.3 L912.9 1035.5 L914.9 1035.7 L916.8 1036.0 L918.7 1036.2 L920.6 1036.4 L922.5 1036.6 L924.4 1036.8 L926.3 1037.0 L928.2 1037.2 L930.1 1037.5 L932.0 1037.7 L933.9 1037.9 L935.8 1038.1 L937.7 1038.4 L939.6 1038.6 L941.5 1038.8 L943.4 1039.1 L945.3 1039.3 L947.1 1039.5 L949.0 1039.8 L950.9 1040.0 L952.8 1040.2 L954.7 1040.5 L956.6 1040.7 L958.4 1040.9 L960.3 1041.2 L962.2 1041.4 L964.1 1041.7 L966.0 1041.9 L967.9 1042.2 L969.7 1042.4 L971.6 1042.6 L973.5 1042.9 L975.4 1043.1 L977.2 1043.4 L979.1 1043.6 L981.0 1043.9 L982.9 1044.1 L984.8 1044.3 L986.6 1044.6 L988.5 1044.8 L990.4 1045.1 L992.3 1045.3 L994.1 1045.6 L996.0 1045.8 L997.9 1046.0 L999.8 1046.3 L1001.7 1046.5 L1003.5 1046.8 L1005.4 1047.0 L1007.3 1047.2 L1009.2 1047.5 L1011.1 1047.7 L1013.0 1048.0 L1014.8 1048.2 L1016.7 1048.4 L1018.6 1048.7 L1020.5 1048.9 L1022.4 1049.1 L1024.3 1049.4 L1026.2 1049.6 L1028.1 1049.8 L1030.0 1050.0 L1031.9 1050.3 L1033.8 1050.5 L1035.7 1050.7 L1037.6 1050.9 L1039.5 1051.2 L1041.4 1051.4 L1043.3 1051.6 L1045.2 1051.8 L1047.1 1052.0 L1049.0 1052.2 L1050.9 1052.4 L1052.8 1052.6 L1054.7 1052.8 L1056.7 1053.1 L1058.6 1053.3 L1060.5 1053.5 L1062.4 1053.7 L1064.3 1053.8 L1066.3 1054.0 L1068.2 1054.2 L1070.1 1054.4 L1072.1 1054.6 L1074.0 1054.8 L1076.0 1055.0 L1077.9 1055.1 L1079.8 1055.3 L1081.8 1055.5 L1083.7 1055.7 L1085.7 1055.8 L1087.7 1056.0 L1089.6 1056.1 L1091.6 1056.3 L1093.6 1056.5 L1095.5 1056.6 L1097.5 1056.8 L1099.5 1056.9 L1101.5 1057.0 L1103.4 1057.2 L1105.4 1057.3 L1107.4 1057.4 L1109.4 1057.6 L1111.4 1057.7 L1113.4 1057.8 L1115.4 1057.9 L1117.4 1058.1 L1119.4 1058.2 L1121.4 1058.3 L1123.4 1058.4 L1125.5 1058.5 L1127.5 1058.6 L1129.5 1058.7 L1131.5 1058.8 L1133.6 1058.9 L1135.6 1059.0 L1137.6 1059.1 L1139.7 1059.1 L1141.7 1059.2 L1143.7 1059.3 L1145.8 1059.4 L1147.8 1059.5 L1149.9 1059.5 L1151.9 1059.6 L1154.0 1059.7 L1156.0 1059.8 L1158.1 1059.8 L1160.1 1059.9 L1162.2 1060.0 L1164.2 1060.0 L1166.3 1060.1 L1168.3 1060.2 L1170.4 1060.2 L1172.5 1060.3 L1174.5 1060.3 L1176.6 1060.4 L1178.7 1060.5 L1180.7 1060.5 L1182.8 1060.6 L1184.9 1060.6 L1186.9 1060.7 L1189.0 1060.7 L1191.1 1060.8 L1193.1 1060.8 L1195.2 1060.9 L1197.3 1060.9 L1199.4 1061.0 L1201.4 1061.0 L1203.5 1061.0 L1205.6 1061.1 L1207.7 1061.1 L1209.8 1061.2 L1211.8 1061.2 L1213.9 1061.3 L1216.0 1061.3 L1218.1 1061.3 L1220.2 1061.4 L1222.2 1061.4 L1224.3 1061.4 L1226.4 1061.5 L1228.5 1061.5 L1230.6 1061.5 L1232.7 1061.6 L1234.8 1061.6 L1236.9 1061.6 L1238.9 1061.7 L1241.0 1061.7 L1243.1 1061.7 L1245.2 1061.8 L1247.3 1061.8 L1249.4 1061.8 L1251.5 1061.9 L1253.6 1061.9 L1255.7 1061.9 L1257.8 1061.9 L1259.9 1062.0 L1262.0 1062.0 L1264.1 1062.0 L1266.2 1062.0 L1268.3 1062.1 L1270.4 1062.1 L1272.5 1062.1 L1274.6 1062.1 L1276.7 1062.1 L1278.8 1062.2 L1280.9 1062.2 L1283.0 1062.2 L1285.1 1062.2 L1287.2 1062.2 L1289.3 1062.2 L1291.4 1062.3 L1293.5 1062.3 L1295.6 1062.3 L1297.7 1062.3 L1299.8 1062.3 L1301.9 1062.3 L1304.0 1062.3 L1306.1 1062.4 L1308.3 1062.4 L1310.4 1062.4 L1312.5 1062.4 L1314.6 1062.4 L1316.7 1062.4 L1318.8 1062.4 L1320.9 1062.4 L1323.0 1062.4 L1325.1 1062.5 L1327.3 1062.5 L1329.4 1062.5 L1331.5 1062.5 L1333.6 1062.5 L1335.7 1062.5 L1337.8 1062.5 L1339.9 1062.5 L1342.1 1062.5 L1344.2 1062.5 L1346.3 1062.5 L1348.4 1062.5 L1350.5 1062.5 L1352.6 1062.5 L1354.8 1062.5 L1356.9 1062.5 L1359.0 1062.5 L1361.1 1062.5 L1363.2 1062.5 L1365.4 1062.5 L1367.5 1062.6 L1369.6 1062.6 L1371.7 1062.6 L1373.8 1062.6 L1376.0 1062.6 L1378.1 1062.6 L1380.2 1062.6 L1382.3 1062.6 L1384.4 1062.6 L1386.6 1062.6 L1388.7 1062.6 L1390.8 1062.6 L1392.9 1062.6 L1395.0 1062.6 L1397.2 1062.6 L1399.3 1062.6 L1401.4 1062.6 L1403.5 1062.6 L1405.6 1062.6 L1407.8 1062.6 L1409.9 1062.6 L1412.0 1062.6 L1414.1 1062.6 L1416.3 1062.6 L1418.4 1062.6 L1420.5 1062.6 L1422.6 1062.6 L1424.7 1062.6 L1426.9 1062.6 L1429.0 1062.6 L1431.1 1062.6 L1433.2 1062.6 L1435.3 1062.6 L1437.5 1062.6 L1439.6 1062.6 L1441.7 1062.6 L1443.8 1062.6 L1446.0 1062.6 L1448.1 1062.6 L1450.2 1062.6 L1452.3 1062.6 L1454.4 1062.6 L1456.6 1062.6 L1458.7 1062.6 L1460.8 1062.6 L1462.9 1062.6 L1465.0 1062.6 L1467.2 1062.6 L1469.3 1062.6 L1471.4 1062.6 L1473.5 1062.6 L1475.6 1062.6 L1477.8 1062.6 L1479.9 1062.6 L1482.0 1062.6 L1484.1 1062.6 L1486.2 1062.6 L1488.3 1062.6 L1490.5 1062.6 L1492.6 1062.6 L1494.7 1062.6 L1496.8 1062.6 L1498.9 1062.6 L1501.1 1062.6 L1503.2 1062.6 L1505.3 1062.6 L1507.4 1062.6 L1509.5 1062.6 L1511.6 1062.6 L1513.8 1062.6 L1515.9 1062.6 L1518.0 1062.6 L1520.1 1062.6 L1522.2 1062.6 L1524.4 1062.7 L1526.5 1062.7 L1528.6 1062.7 L1530.7 1062.7 L1532.8 1062.7 L1534.9 1062.7 L1537.1 1062.7 L1539.2 1062.7 L1541.3 1062.7 L1543.4 1062.7 L1545.5 1062.7 L1547.6 1062.7 L1549.8 1062.7 L1551.9 1062.7 L1554.0 1062.7 L1556.1 1062.7 L1558.2 1062.7 L1560.3 1062.7 L1562.5 1062.7 L1564.6 1062.7 L1566.7 1062.7 L1568.8 1062.7 L1570.9 1062.7 L1573.0 1062.8 L1575.2 1062.8 L1577.3 1062.8 L1579.4 1062.8 L1581.5 1062.8 L1583.6 1062.8 L1585.7 1062.8 L1587.9 1062.8 L1590.0 1062.8 L1592.1 1062.8 L1594.2 1062.8 L1596.3 1062.8 L1598.4 1062.8 L1600.6 1062.8 L1602.7 1062.8 L1604.8 1062.8 L1606.9 1062.8 L1609.0 1062.8 L1611.2 1062.8 L1613.3 1062.8 L1615.4 1062.8 L1617.5 1062.8 L1619.6 1062.8 L1621.7 1062.8 L1623.9 1062.8 L1626.0 1062.8 L1628.1 1062.8 L1630.2 1062.9 L1632.3 1062.9 L1634.5 1062.9 L1636.6 1062.9 L1638.7 1062.9 L1640.8 1062.9 L1642.9 1062.9 L1645.0 1062.9 L1647.2 1062.9 L1649.3 1062.9 L1651.4 1062.9 L1653.5 1062.9 L1655.6 1062.9 L1657.8 1062.9 L1659.9 1062.9 L1662.0 1062.9 L1664.1 1062.9 L1666.2 1062.9 L1668.3 1062.9 L1670.5 1062.9 L1672.6 1062.9 L1674.7 1062.9 L1676.8 1062.9 L1678.9 1062.9 L1681.1 1062.9 L1683.2 1062.9 L1685.3 1062.9 L1687.4 1062.9 L1689.5 1062.9 L1691.7 1062.9 L1693.8 1062.9 L1695.9 1062.9 L1698.0 1062.9 L1700.1 1062.9 L1702.3 1062.9 L1704.4 1062.9 L1706.5 1062.9 L1708.6 1062.9 L1710.7 1062.9 L1712.8 1063.0 L1715.0 1063.0 L1717.1 1063.0 L1719.2 1063.0 L1721.3 1063.0 L1723.4 1063.0 L1725.6 1063.0 L1727.7 1063.0 L1729.8 1063.0 L1731.9 1063.0 L1734.0 1063.0 L1736.2 1063.0 L1738.3 1063.0 L1740.4 1063.0 L1742.5 1063.0 L1744.6 1063.0 L1746.8 1063.0 L1748.9 1063.0 L1751.0 1063.0 L1753.1 1063.0 L1755.2 1063.0 L1757.4 1063.0 L1759.5 1063.0 L1761.6 1063.0 L1763.7 1063.0 L1765.8 1063.0 L1768.0 1063.0 L1770.1 1063.0 L1772.2 1063.0 L1774.3 1063.0 L1776.4 1063.0 L1778.6 1063.0 L1780.7 1063.0 L1782.8 1063.0 L1784.9 1063.0 L1787.0 1063.0 L1789.2 1063.0 L1791.3 1063.0 L1793.4 1063.0 L1795.5 1063.0 L1797.7 1063.0 L1799.8 1063.0 L1801.9 1063.0 L1804.0 1063.0 L1806.1 1063.0 L1808.3 1063.0 L1810.4 1063.0 L1812.5 1063.0 L1814.6 1063.0 L1816.7 1063.0 L1818.9 1063.0 L1821.0 1063.0 L1823.1 1063.0 L1825.2 1063.0 L1827.3 1063.0 L1829.5 1063.0 L1831.6 1063.0 L1833.7 1063.0 L1835.8 1063.0 L1838.0 1063.0 L1840.1 1063.0 L1842.2 1063.0 L1844.3 1063.0 L1846.4 1063.0 L1848.6 1063.0 L1850.7 1063.0 L1852.8 1063.0 L1854.9 1063.0 L1857.0 1063.0 L1859.2 1063.0 L1861.3 1063.0 L1862.0 1063.0" stroke="#989a00" stroke-width="5.8" fill="none" stroke-linejoin="round" stroke-linecap="butt"/>
<g font-family="Liberation Serif, serif" font-size="82" fill="#000"><text x="293" y="83.5" text-anchor="end">0.20</text><text x="293" y="376.4" text-anchor="end">0.15</text><text x="293" y="669.2" text-anchor="end">0.10</text><text x="293" y="962.1" text-anchor="end">0.05</text><text x="293" y="1254.9" text-anchor="end">0.00</text><text x="335.0" y="1393" text-anchor="middle">1.20</text><text x="717.0" y="1393" text-anchor="middle">1.24</text><text x="1099.0" y="1393" text-anchor="middle">1.28</text><text x="1481.0" y="1393" text-anchor="middle">1.32</text><text x="1863.0" y="1393" text-anchor="middle">1.36</text></g>
<text x="926.8" y="1530.5" font-family="Liberation Serif, serif" font-size="88">Time(ms)</text>
<text transform="translate(101 964.7) rotate(-90)" font-family="Liberation Serif, serif" font-size="88"><tspan x="0" y="0">H</tspan><tspan x="61.9" y="24" font-size="63">2</tspan><tspan x="113.9" y="0" font-size="87.3">mole fraction</tspan></text>
<path d="M1398 161.0 H1582" stroke="#000000" stroke-width="6" stroke-linecap="round"/><text y="187.4" font-family="Liberation Serif, serif" font-size="82"><tspan x="1600.2" font-family="Noto Serif CJK SC, serif" font-weight="600" font-size="71">α</tspan><tspan x="1689.2">0</tspan></text><text transform="translate(1641 181.3) scale(1.1 0.78)" font-family="Liberation Serif, serif" font-size="82">=</text><path d="M1398 261.4 H1582" stroke="#1877f5" stroke-width="6" stroke-linecap="round"/><text y="287.8" font-family="Liberation Serif, serif" font-size="82"><tspan x="1600.2" font-family="Noto Serif CJK SC, serif" font-weight="600" font-size="71">α</tspan><tspan x="1689.2">0.2</tspan></text><text transform="translate(1641 281.7) scale(1.1 0.78)" font-family="Liberation Serif, serif" font-size="82">=</text><path d="M1398 361.8 H1582" stroke="#c07aee" stroke-width="6" stroke-linecap="round"/><text y="388.2" font-family="Liberation Serif, serif" font-size="82"><tspan x="1600.2" font-family="Noto Serif CJK SC, serif" font-weight="600" font-size="71">α</tspan><tspan x="1689.2">0.4</tspan></text><text transform="translate(1641 382.1) scale(1.1 0.78)" font-family="Liberation Serif, serif" font-size="82">=</text><path d="M1398 462.2 H1582" stroke="#00dede" stroke-width="6" stroke-linecap="round"/><text y="488.6" font-family="Liberation Serif, serif" font-size="82"><tspan x="1600.2" font-family="Noto Serif CJK SC, serif" font-weight="600" font-size="71">α</tspan><tspan x="1689.2">0.6</tspan></text><text transform="translate(1641 482.5) scale(1.1 0.78)" font-family="Liberation Serif, serif" font-size="82">=</text><path d="M1398 562.6 H1582" stroke="#989a00" stroke-width="6" stroke-linecap="round"/><text y="589.0" font-family="Liberation Serif, serif" font-size="82"><tspan x="1600.2" font-family="Noto Serif CJK SC, serif" font-weight="600" font-size="71">α</tspan><tspan x="1689.2">0.8</tspan></text><text transform="translate(1641 582.9) scale(1.1 0.78)" font-family="Liberation Serif, serif" font-size="82">=</text></g></svg></body></html>
